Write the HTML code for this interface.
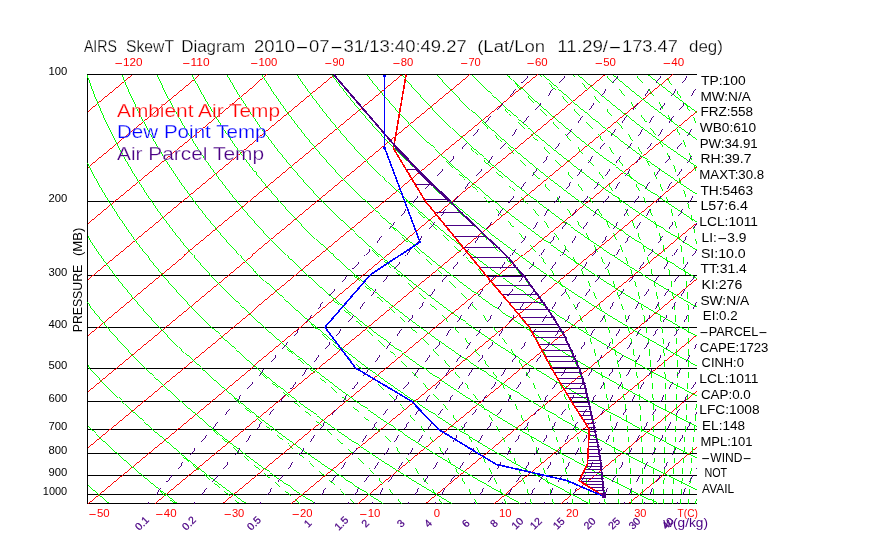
<!DOCTYPE html>
<html lang="en"><head><meta charset="utf-8"><title>AIRS SkewT Diagram</title>
<style>html,body{margin:0;padding:0;background:#fff}body{width:870px;height:560px;overflow:hidden}svg{display:block;will-change:transform}text{white-space:pre}</style></head>
<body>
<svg width="870" height="560" viewBox="0 0 870 560" font-family='"Liberation Sans", sans-serif'>
<rect width="870" height="560" fill="#fff"/>
<g fill="none" stroke-width="0.99" shape-rendering="crispEdges">
<path stroke="#000000" stroke-width="1" d="M87 74.5 H697 M87 201.5 H697 M87 275.5 H697 M87 327.5 H697 M87 368.5 H697 M87 401.5 H697 M87 429.5 H697 M87 453.5 H697 M87 475.5 H697 M87 494.5 H697 M87 503.5 H697 M87.5 74 V504"/>
<path stroke="#ff0000" d="M131.6 74.5 L87.5 111.1 M199.3 74.5 L87.5 167.1 M267 74.5 L87.5 223.2 M334.6 74.5 L87.5 279.2 M402.3 74.5 L87.5 335.3 M470 74.5 L87.5 391.4 M537.6 74.5 L87.5 447.4 M605.3 74.5 L87.5 503.5 M673 74.5 L155.1 503.5 M696.5 111 L222.8 503.5 M696.5 167.1 L290.5 503.5 M696.5 223.2 L358.1 503.5 M696.5 279.2 L425.8 503.5 M696.5 335.3 L493.5 503.5 M696.5 391.4 L561.1 503.5 M696.5 447.4 L628.8 503.5"/>
<path stroke="#00ff00" d="M87.5 485.2 L90.1 487.5 L93.5 490.5 L97 493.5 L100.5 496.5 L104 499.5 L107.5 502.5 L108.7 503.5 M87.5 425.6 L89.4 427.5 L92.5 430.5 L95.6 433.5 L98.7 436.5 L101.9 439.5 L105.1 442.5 L108.3 445.5 L111.6 448.5 L114.9 451.5 L118.2 454.5 L121.6 457.5 L125 460.5 L128.4 463.5 L131.9 466.5 L135.4 469.5 L138.9 472.5 L142.4 475.5 L146 478.5 L149.7 481.5 L153.3 484.5 L157 487.5 L160.8 490.5 L164.5 493.5 L168.3 496.5 L172.2 499.5 L176 502.5 L177.3 503.5 M87.5 364.9 L89.8 367.5 L92.6 370.5 L95.3 373.5 L98.1 376.5 L100.9 379.5 L103.8 382.5 L106.7 385.5 L109.6 388.5 L112.5 391.5 L115.5 394.5 L118.5 397.5 L121.6 400.5 L124.6 403.5 L127.7 406.5 L130.9 409.5 L134 412.5 L137.2 415.5 L140.5 418.5 L143.7 421.5 L147 424.5 L150.3 427.5 L153.7 430.5 L157.1 433.5 L160.5 436.5 L164 439.5 L167.5 442.5 L171 445.5 L174.5 448.5 L178.1 451.5 L181.8 454.5 L185.4 457.5 L189.1 460.5 L192.8 463.5 L196.6 466.5 L200.4 469.5 L204.2 472.5 L208.1 475.5 L212 478.5 L216 481.5 L219.9 484.5 L223.9 487.5 L228 490.5 L232.1 493.5 L236.2 496.5 L240.4 499.5 L244.5 502.5 L246 503.5 M87.5 302.1 L89.4 304.5 L91.7 307.5 L94.1 310.5 L96.6 313.5 L99 316.5 L101.5 319.5 L104 322.5 L106.6 325.5 L109.1 328.5 L111.7 331.5 L114.4 334.5 L117 337.5 L119.7 340.5 L122.4 343.5 L125.2 346.5 L128 349.5 L130.8 352.5 L133.6 355.5 L136.5 358.5 L139.4 361.5 L142.3 364.5 L145.3 367.5 L148.3 370.5 L151.3 373.5 L154.4 376.5 L157.4 379.5 L160.6 382.5 L163.7 385.5 L166.9 388.5 L170.1 391.5 L173.4 394.5 L176.6 397.5 L179.9 400.5 L183.3 403.5 L186.7 406.5 L190.1 409.5 L193.5 412.5 L197 415.5 L200.5 418.5 L204.1 421.5 L207.6 424.5 L211.2 427.5 L214.9 430.5 L218.6 433.5 L222.3 436.5 L226 439.5 L229.8 442.5 L233.6 445.5 L237.5 448.5 L241.4 451.5 L245.3 454.5 L249.3 457.5 L253.3 460.5 L257.3 463.5 L261.4 466.5 L265.5 469.5 L269.6 472.5 L273.8 475.5 L278 478.5 L282.3 481.5 L286.5 484.5 L290.9 487.5 L295.2 490.5 L299.6 493.5 L304.1 496.5 L308.5 499.5 L313.1 502.5 L314.6 503.5 M87.5 235.7 L89.4 238.5 L91.4 241.5 L93.4 244.5 L95.4 247.5 L97.5 250.5 L99.6 253.5 L101.7 256.5 L103.9 259.5 L106.1 262.5 L108.3 265.5 L110.5 268.5 L112.8 271.5 L115.1 274.5 L117.4 277.5 L119.8 280.5 L122.1 283.5 L124.5 286.5 L127 289.5 L129.4 292.5 L131.9 295.5 L134.5 298.5 L137 301.5 L139.6 304.5 L142.2 307.5 L144.8 310.5 L147.5 313.5 L150.2 316.5 L152.9 319.5 L155.7 322.5 L158.5 325.5 L161.3 328.5 L164.1 331.5 L167 334.5 L169.9 337.5 L172.9 340.5 L175.8 343.5 L178.8 346.5 L181.9 349.5 L184.9 352.5 L188 355.5 L191.2 358.5 L194.3 361.5 L197.5 364.5 L200.7 367.5 L204 370.5 L207.3 373.5 L210.6 376.5 L213.9 379.5 L217.3 382.5 L220.7 385.5 L224.2 388.5 L227.7 391.5 L231.2 394.5 L234.8 397.5 L238.3 400.5 L242 403.5 L245.6 406.5 L249.3 409.5 L253 412.5 L256.8 415.5 L260.6 418.5 L264.4 421.5 L268.3 424.5 L272.2 427.5 L276.1 430.5 L280.1 433.5 L284.1 436.5 L288.1 439.5 L292.2 442.5 L296.3 445.5 L300.4 448.5 L304.6 451.5 L308.9 454.5 L313.1 457.5 L317.4 460.5 L321.7 463.5 L326.1 466.5 L330.5 469.5 L335 472.5 L339.5 475.5 L344 478.5 L348.5 481.5 L353.1 484.5 L357.8 487.5 L362.5 490.5 L367.2 493.5 L371.9 496.5 L376.7 499.5 L381.6 502.5 L383.2 503.5 M87.5 162.6 L88 163.5 L89.5 166.5 L91.1 169.5 L92.7 172.5 L94.4 175.5 L96 178.5 L97.7 181.5 L99.4 184.5 L101.2 187.5 L102.9 190.5 L104.7 193.5 L106.5 196.5 L108.4 199.5 L110.2 202.5 L112.1 205.5 L114 208.5 L116 211.5 L117.9 214.5 L119.9 217.5 L122 220.5 L124 223.5 L126.1 226.5 L128.2 229.5 L130.3 232.5 L132.5 235.5 L134.7 238.5 L136.9 241.5 L139.1 244.5 L141.4 247.5 L143.7 250.5 L146 253.5 L148.3 256.5 L150.7 259.5 L153.1 262.5 L155.5 265.5 L158 268.5 L160.5 271.5 L163 274.5 L165.6 277.5 L168.1 280.5 L170.7 283.5 L173.4 286.5 L176 289.5 L178.7 292.5 L181.5 295.5 L184.2 298.5 L187 301.5 L189.8 304.5 L192.7 307.5 L195.5 310.5 L198.5 313.5 L201.4 316.5 L204.4 319.5 L207.4 322.5 L210.4 325.5 L213.4 328.5 L216.5 331.5 L219.7 334.5 L222.8 337.5 L226 340.5 L229.2 343.5 L232.5 346.5 L235.8 349.5 L239.1 352.5 L242.4 355.5 L245.8 358.5 L249.2 361.5 L252.7 364.5 L256.2 367.5 L259.7 370.5 L263.2 373.5 L266.8 376.5 L270.4 379.5 L274.1 382.5 L277.8 385.5 L281.5 388.5 L285.3 391.5 L289 394.5 L292.9 397.5 L296.7 400.5 L300.6 403.5 L304.6 406.5 L308.5 409.5 L312.5 412.5 L316.6 415.5 L320.6 418.5 L324.7 421.5 L328.9 424.5 L333.1 427.5 L337.3 430.5 L341.6 433.5 L345.8 436.5 L350.2 439.5 L354.5 442.5 L359 445.5 L363.4 448.5 L367.9 451.5 L372.4 454.5 L377 457.5 L381.6 460.5 L386.2 463.5 L390.9 466.5 L395.6 469.5 L400.3 472.5 L405.1 475.5 L410 478.5 L414.8 481.5 L419.7 484.5 L424.7 487.5 L429.7 490.5 L434.7 493.5 L439.8 496.5 L444.9 499.5 L450.1 502.5 L451.8 503.5 M87.5 75.3 L87.9 76.5 L89 79.5 L90.1 82.5 L91.2 85.5 L92.3 88.5 L93.5 91.5 L94.6 94.5 L95.8 97.5 L97.1 100.5 L98.3 103.5 L99.6 106.5 L100.9 109.5 L102.2 112.5 L103.5 115.5 L104.9 118.5 L106.3 121.5 L107.7 124.5 L109.1 127.5 L110.6 130.5 L112.1 133.5 L113.6 136.5 L115.1 139.5 L116.7 142.5 L118.2 145.5 L119.9 148.5 L121.5 151.5 L123.1 154.5 L124.8 157.5 L126.5 160.5 L128.2 163.5 L130 166.5 L131.8 169.5 L133.6 172.5 L135.4 175.5 L137.3 178.5 L139.1 181.5 L141.1 184.5 L143 187.5 L144.9 190.5 L146.9 193.5 L148.9 196.5 L151 199.5 L153 202.5 L155.1 205.5 L157.3 208.5 L159.4 211.5 L161.6 214.5 L163.8 217.5 L166 220.5 L168.3 223.5 L170.5 226.5 L172.8 229.5 L175.2 232.5 L177.6 235.5 L180 238.5 L182.4 241.5 L184.8 244.5 L187.3 247.5 L189.8 250.5 L192.4 253.5 L194.9 256.5 L197.5 259.5 L200.1 262.5 L202.8 265.5 L205.5 268.5 L208.2 271.5 L210.9 274.5 L213.7 277.5 L216.5 280.5 L219.4 283.5 L222.2 286.5 L225.1 289.5 L228 292.5 L231 295.5 L234 298.5 L237 301.5 L240.1 304.5 L243.1 307.5 L246.3 310.5 L249.4 313.5 L252.6 316.5 L255.8 319.5 L259 322.5 L262.3 325.5 L265.6 328.5 L268.9 331.5 L272.3 334.5 L275.7 337.5 L279.2 340.5 L282.6 343.5 L286.1 346.5 L289.7 349.5 L293.2 352.5 L296.9 355.5 L300.5 358.5 L304.2 361.5 L307.9 364.5 L311.6 367.5 L315.4 370.5 L319.2 373.5 L323.1 376.5 L326.9 379.5 L330.9 382.5 L334.8 385.5 L338.8 388.5 L342.8 391.5 L346.9 394.5 L351 397.5 L355.1 400.5 L359.3 403.5 L363.5 406.5 L367.7 409.5 L372 412.5 L376.3 415.5 L380.7 418.5 L385.1 421.5 L389.5 424.5 L394 427.5 L398.5 430.5 L403 433.5 L407.6 436.5 L412.2 439.5 L416.9 442.5 L421.6 445.5 L426.3 448.5 L431.1 451.5 L435.9 454.5 L440.8 457.5 L445.7 460.5 L450.6 463.5 L455.6 466.5 L460.6 469.5 L465.7 472.5 L470.8 475.5 L475.9 478.5 L481.1 481.5 L486.4 484.5 L491.6 487.5 L496.9 490.5 L502.3 493.5 L507.7 496.5 L513.1 499.5 L518.6 502.5 L520.4 503.5 M122.2 74.5 L123 76.5 L124.3 79.5 L125.5 82.5 L126.8 85.5 L128.1 88.5 L129.4 91.5 L130.8 94.5 L132.2 97.5 L133.6 100.5 L135 103.5 L136.4 106.5 L137.9 109.5 L139.4 112.5 L140.9 115.5 L142.4 118.5 L144 121.5 L145.6 124.5 L147.2 127.5 L148.8 130.5 L150.5 133.5 L152.2 136.5 L153.9 139.5 L155.6 142.5 L157.4 145.5 L159.2 148.5 L161 151.5 L162.8 154.5 L164.7 157.5 L166.6 160.5 L168.5 163.5 L170.5 166.5 L172.4 169.5 L174.4 172.5 L176.4 175.5 L178.5 178.5 L180.6 181.5 L182.7 184.5 L184.8 187.5 L187 190.5 L189.1 193.5 L191.4 196.5 L193.6 199.5 L195.9 202.5 L198.1 205.5 L200.5 208.5 L202.8 211.5 L205.2 214.5 L207.6 217.5 L210 220.5 L212.5 223.5 L215 226.5 L217.5 229.5 L220.1 232.5 L222.6 235.5 L225.2 238.5 L227.9 241.5 L230.6 244.5 L233.2 247.5 L236 250.5 L238.7 253.5 L241.5 256.5 L244.3 259.5 L247.2 262.5 L250.1 265.5 L253 268.5 L255.9 271.5 L258.9 274.5 L261.9 277.5 L264.9 280.5 L268 283.5 L271.1 286.5 L274.2 289.5 L277.3 292.5 L280.5 295.5 L283.8 298.5 L287 301.5 L290.3 304.5 L293.6 307.5 L297 310.5 L300.3 313.5 L303.8 316.5 L307.2 319.5 L310.7 322.5 L314.2 325.5 L317.8 328.5 L321.4 331.5 L325 334.5 L328.6 337.5 L332.3 340.5 L336 343.5 L339.8 346.5 L343.6 349.5 L347.4 352.5 L351.3 355.5 L355.2 358.5 L359.1 361.5 L363.1 364.5 L367.1 367.5 L371.1 370.5 L375.2 373.5 L379.3 376.5 L383.4 379.5 L387.6 382.5 L391.8 385.5 L396.1 388.5 L400.4 391.5 L404.7 394.5 L409.1 397.5 L413.5 400.5 L418 403.5 L422.4 406.5 L427 409.5 L431.5 412.5 L436.1 415.5 L440.8 418.5 L445.4 421.5 L450.1 424.5 L454.9 427.5 L459.7 430.5 L464.5 433.5 L469.4 436.5 L474.3 439.5 L479.3 442.5 L484.3 445.5 L489.3 448.5 L494.4 451.5 L499.5 454.5 L504.7 457.5 L509.9 460.5 L515.1 463.5 L520.4 466.5 L525.7 469.5 L531.1 472.5 L536.5 475.5 L541.9 478.5 L547.4 481.5 L553 484.5 L558.5 487.5 L564.2 490.5 L569.8 493.5 L575.5 496.5 L581.3 499.5 L587.1 502.5 L589.1 503.5 M157.3 74.5 L158.2 76.5 L159.6 79.5 L161 82.5 L162.5 85.5 L163.9 88.5 L165.4 91.5 L166.9 94.5 L168.5 97.5 L170 100.5 L171.6 103.5 L173.3 106.5 L174.9 109.5 L176.6 112.5 L178.3 115.5 L180 118.5 L181.7 121.5 L183.5 124.5 L185.3 127.5 L187.1 130.5 L188.9 133.5 L190.8 136.5 L192.7 139.5 L194.6 142.5 L196.6 145.5 L198.5 148.5 L200.5 151.5 L202.6 154.5 L204.6 157.5 L206.7 160.5 L208.8 163.5 L210.9 166.5 L213.1 169.5 L215.3 172.5 L217.5 175.5 L219.7 178.5 L222 181.5 L224.3 184.5 L226.6 187.5 L229 190.5 L231.4 193.5 L233.8 196.5 L236.2 199.5 L238.7 202.5 L241.2 205.5 L243.7 208.5 L246.2 211.5 L248.8 214.5 L251.4 217.5 L254.1 220.5 L256.7 223.5 L259.4 226.5 L262.2 229.5 L264.9 232.5 L267.7 235.5 L270.5 238.5 L273.4 241.5 L276.3 244.5 L279.2 247.5 L282.1 250.5 L285.1 253.5 L288.1 256.5 L291.1 259.5 L294.2 262.5 L297.3 265.5 L300.4 268.5 L303.6 271.5 L306.8 274.5 L310 277.5 L313.3 280.5 L316.6 283.5 L319.9 286.5 L323.2 289.5 L326.6 292.5 L330.1 295.5 L333.5 298.5 L337 301.5 L340.5 304.5 L344.1 307.5 L347.7 310.5 L351.3 313.5 L355 316.5 L358.6 319.5 L362.4 322.5 L366.1 325.5 L369.9 328.5 L373.8 331.5 L377.6 334.5 L381.5 337.5 L385.5 340.5 L389.4 343.5 L393.4 346.5 L397.5 349.5 L401.6 352.5 L405.7 355.5 L409.8 358.5 L414 361.5 L418.2 364.5 L422.5 367.5 L426.8 370.5 L431.1 373.5 L435.5 376.5 L439.9 379.5 L444.4 382.5 L448.9 385.5 L453.4 388.5 L458 391.5 L462.6 394.5 L467.2 397.5 L471.9 400.5 L476.6 403.5 L481.4 406.5 L486.2 409.5 L491 412.5 L495.9 415.5 L500.8 418.5 L505.8 421.5 L510.8 424.5 L515.8 427.5 L520.9 430.5 L526 433.5 L531.2 436.5 L536.4 439.5 L541.6 442.5 L546.9 445.5 L552.3 448.5 L557.6 451.5 L563 454.5 L568.5 457.5 L574 460.5 L579.5 463.5 L585.1 466.5 L590.8 469.5 L596.4 472.5 L602.1 475.5 L607.9 478.5 L613.7 481.5 L619.6 484.5 L625.5 487.5 L631.4 490.5 L637.4 493.5 L643.4 496.5 L649.5 499.5 L655.6 502.5 L657.7 503.5 M192.3 74.5 L193.3 76.5 L194.9 79.5 L196.5 82.5 L198.1 85.5 L199.7 88.5 L201.4 91.5 L203.1 94.5 L204.8 97.5 L206.5 100.5 L208.3 103.5 L210.1 106.5 L211.9 109.5 L213.7 112.5 L215.6 115.5 L217.5 118.5 L219.4 121.5 L221.4 124.5 L223.3 127.5 L225.3 130.5 L227.4 133.5 L229.4 136.5 L231.5 139.5 L233.6 142.5 L235.7 145.5 L237.9 148.5 L240.1 151.5 L242.3 154.5 L244.5 157.5 L246.8 160.5 L249.1 163.5 L251.4 166.5 L253.7 169.5 L256.1 172.5 L258.5 175.5 L261 178.5 L263.4 181.5 L265.9 184.5 L268.4 187.5 L271 190.5 L273.6 193.5 L276.2 196.5 L278.8 199.5 L281.5 202.5 L284.2 205.5 L286.9 208.5 L289.7 211.5 L292.4 214.5 L295.3 217.5 L298.1 220.5 L301 223.5 L303.9 226.5 L306.8 229.5 L309.8 232.5 L312.8 235.5 L315.8 238.5 L318.9 241.5 L322 244.5 L325.1 247.5 L328.3 250.5 L331.5 253.5 L334.7 256.5 L338 259.5 L341.2 262.5 L344.6 265.5 L347.9 268.5 L351.3 271.5 L354.7 274.5 L358.2 277.5 L361.7 280.5 L365.2 283.5 L368.7 286.5 L372.3 289.5 L375.9 292.5 L379.6 295.5 L383.3 298.5 L387 301.5 L390.8 304.5 L394.6 307.5 L398.4 310.5 L402.2 313.5 L406.1 316.5 L410.1 319.5 L414 322.5 L418 325.5 L422.1 328.5 L426.2 331.5 L430.3 334.5 L434.4 337.5 L438.6 340.5 L442.8 343.5 L447.1 346.5 L451.4 349.5 L455.7 352.5 L460.1 355.5 L464.5 358.5 L468.9 361.5 L473.4 364.5 L478 367.5 L482.5 370.5 L487.1 373.5 L491.8 376.5 L496.4 379.5 L501.2 382.5 L505.9 385.5 L510.7 388.5 L515.5 391.5 L520.4 394.5 L525.3 397.5 L530.3 400.5 L535.3 403.5 L540.3 406.5 L545.4 409.5 L550.5 412.5 L555.7 415.5 L560.9 418.5 L566.1 421.5 L571.4 424.5 L576.7 427.5 L582.1 430.5 L587.5 433.5 L593 436.5 L598.5 439.5 L604 442.5 L609.6 445.5 L615.2 448.5 L620.9 451.5 L626.6 454.5 L632.3 457.5 L638.1 460.5 L644 463.5 L649.9 466.5 L655.8 469.5 L661.8 472.5 L667.8 475.5 L673.9 478.5 L680 481.5 L686.2 484.5 L692.4 487.5 L696.5 489.5 M227.3 74.5 L228.5 76.5 L230.2 79.5 L232 82.5 L233.7 85.5 L235.5 88.5 L237.4 91.5 L239.2 94.5 L241.1 97.5 L243 100.5 L245 103.5 L246.9 106.5 L248.9 109.5 L250.9 112.5 L253 115.5 L255 118.5 L257.1 121.5 L259.2 124.5 L261.4 127.5 L263.6 130.5 L265.8 133.5 L268 136.5 L270.3 139.5 L272.6 142.5 L274.9 145.5 L277.2 148.5 L279.6 151.5 L282 154.5 L284.4 157.5 L286.9 160.5 L289.3 163.5 L291.9 166.5 L294.4 169.5 L297 172.5 L299.6 175.5 L302.2 178.5 L304.8 181.5 L307.5 184.5 L310.3 187.5 L313 190.5 L315.8 193.5 L318.6 196.5 L321.4 199.5 L324.3 202.5 L327.2 205.5 L330.1 208.5 L333.1 211.5 L336.1 214.5 L339.1 217.5 L342.1 220.5 L345.2 223.5 L348.4 226.5 L351.5 229.5 L354.7 232.5 L357.9 235.5 L361.1 238.5 L364.4 241.5 L367.7 244.5 L371.1 247.5 L374.4 250.5 L377.9 253.5 L381.3 256.5 L384.8 259.5 L388.3 262.5 L391.8 265.5 L395.4 268.5 L399 271.5 L402.6 274.5 L406.3 277.5 L410 280.5 L413.8 283.5 L417.6 286.5 L421.4 289.5 L425.2 292.5 L429.1 295.5 L433 298.5 L437 301.5 L441 304.5 L445 307.5 L449.1 310.5 L453.2 313.5 L457.3 316.5 L461.5 319.5 L465.7 322.5 L470 325.5 L474.2 328.5 L478.6 331.5 L482.9 334.5 L487.3 337.5 L491.8 340.5 L496.2 343.5 L500.7 346.5 L505.3 349.5 L509.9 352.5 L514.5 355.5 L519.2 358.5 L523.9 361.5 L528.6 364.5 L533.4 367.5 L538.2 370.5 L543.1 373.5 L548 376.5 L552.9 379.5 L557.9 382.5 L562.9 385.5 L568 388.5 L573.1 391.5 L578.3 394.5 L583.4 397.5 L588.7 400.5 L593.9 403.5 L599.3 406.5 L604.6 409.5 L610 412.5 L615.5 415.5 L620.9 418.5 L626.5 421.5 L632 424.5 L637.6 427.5 L643.3 430.5 L649 433.5 L654.7 436.5 L660.5 439.5 L666.4 442.5 L672.2 445.5 L678.2 448.5 L684.1 451.5 L690.1 454.5 L696.2 457.5 L696.5 457.7 M262.4 74.5 L263.6 76.5 L265.5 79.5 L267.4 82.5 L269.4 85.5 L271.3 88.5 L273.3 91.5 L275.4 94.5 L277.4 97.5 L279.5 100.5 L281.6 103.5 L283.8 106.5 L285.9 109.5 L288.1 112.5 L290.3 115.5 L292.6 118.5 L294.8 121.5 L297.1 124.5 L299.5 127.5 L301.8 130.5 L304.2 133.5 L306.6 136.5 L309.1 139.5 L311.5 142.5 L314 145.5 L316.5 148.5 L319.1 151.5 L321.7 154.5 L324.3 157.5 L326.9 160.5 L329.6 163.5 L332.3 166.5 L335 169.5 L337.8 172.5 L340.6 175.5 L343.4 178.5 L346.3 181.5 L349.2 184.5 L352.1 187.5 L355 190.5 L358 193.5 L361 196.5 L364 199.5 L367.1 202.5 L370.2 205.5 L373.3 208.5 L376.5 211.5 L379.7 214.5 L382.9 217.5 L386.2 220.5 L389.5 223.5 L392.8 226.5 L396.2 229.5 L399.6 232.5 L403 235.5 L406.4 238.5 L409.9 241.5 L413.5 244.5 L417 247.5 L420.6 250.5 L424.2 253.5 L427.9 256.5 L431.6 259.5 L435.3 262.5 L439.1 265.5 L442.9 268.5 L446.7 271.5 L450.6 274.5 L454.5 277.5 L458.4 280.5 L462.4 283.5 L466.4 286.5 L470.4 289.5 L474.5 292.5 L478.6 295.5 L482.8 298.5 L487 301.5 L491.2 304.5 L495.5 307.5 L499.8 310.5 L504.1 313.5 L508.5 316.5 L512.9 319.5 L517.4 322.5 L521.9 325.5 L526.4 328.5 L531 331.5 L535.6 334.5 L540.2 337.5 L544.9 340.5 L549.6 343.5 L554.4 346.5 L559.2 349.5 L564 352.5 L568.9 355.5 L573.8 358.5 L578.8 361.5 L583.8 364.5 L588.8 367.5 L593.9 370.5 L599.1 373.5 L604.2 376.5 L609.4 379.5 L614.7 382.5 L620 385.5 L625.3 388.5 L630.7 391.5 L636.1 394.5 L641.6 397.5 L647.1 400.5 L652.6 403.5 L658.2 406.5 L663.8 409.5 L669.5 412.5 L675.2 415.5 L681 418.5 L686.8 421.5 L692.7 424.5 L696.5 426.5 M297.4 74.5 L298.7 76.5 L300.8 79.5 L302.9 82.5 L305 85.5 L307.2 88.5 L309.3 91.5 L311.5 94.5 L313.7 97.5 L316 100.5 L318.3 103.5 L320.6 106.5 L322.9 109.5 L325.3 112.5 L327.7 115.5 L330.1 118.5 L332.5 121.5 L335 124.5 L337.5 127.5 L340.1 130.5 L342.6 133.5 L345.2 136.5 L347.8 139.5 L350.5 142.5 L353.2 145.5 L355.9 148.5 L358.6 151.5 L361.4 154.5 L364.2 157.5 L367 160.5 L369.9 163.5 L372.8 166.5 L375.7 169.5 L378.7 172.5 L381.6 175.5 L384.7 178.5 L387.7 181.5 L390.8 184.5 L393.9 187.5 L397 190.5 L400.2 193.5 L403.4 196.5 L406.6 199.5 L409.9 202.5 L413.2 205.5 L416.6 208.5 L419.9 211.5 L423.3 214.5 L426.8 217.5 L430.2 220.5 L433.7 223.5 L437.3 226.5 L440.8 229.5 L444.4 232.5 L448.1 235.5 L451.7 238.5 L455.4 241.5 L459.2 244.5 L463 247.5 L466.8 250.5 L470.6 253.5 L474.5 256.5 L478.4 259.5 L482.3 262.5 L486.3 265.5 L490.3 268.5 L494.4 271.5 L498.5 274.5 L502.6 277.5 L506.8 280.5 L511 283.5 L515.2 286.5 L519.5 289.5 L523.8 292.5 L528.2 295.5 L532.6 298.5 L537 301.5 L541.5 304.5 L546 307.5 L550.5 310.5 L555.1 313.5 L559.7 316.5 L564.4 319.5 L569.1 322.5 L573.8 325.5 L578.6 328.5 L583.4 331.5 L588.2 334.5 L593.1 337.5 L598.1 340.5 L603 343.5 L608 346.5 L613.1 349.5 L618.2 352.5 L623.3 355.5 L628.5 358.5 L633.7 361.5 L639 364.5 L644.3 367.5 L649.6 370.5 L655 373.5 L660.5 376.5 L665.9 379.5 L671.4 382.5 L677 385.5 L682.6 388.5 L688.3 391.5 L693.9 394.5 L696.5 395.8 M332.4 74.5 L333.9 76.5 L336.1 79.5 L338.4 82.5 L340.7 85.5 L343 88.5 L345.3 91.5 L347.7 94.5 L350.1 97.5 L352.5 100.5 L354.9 103.5 L357.4 106.5 L359.9 109.5 L362.5 112.5 L365 115.5 L367.6 118.5 L370.3 121.5 L372.9 124.5 L375.6 127.5 L378.3 130.5 L381 133.5 L383.8 136.5 L386.6 139.5 L389.5 142.5 L392.3 145.5 L395.2 148.5 L398.1 151.5 L401.1 154.5 L404.1 157.5 L407.1 160.5 L410.2 163.5 L413.2 166.5 L416.4 169.5 L419.5 172.5 L422.7 175.5 L425.9 178.5 L429.1 181.5 L432.4 184.5 L435.7 187.5 L439 190.5 L442.4 193.5 L445.8 196.5 L449.3 199.5 L452.7 202.5 L456.2 205.5 L459.8 208.5 L463.3 211.5 L466.9 214.5 L470.6 217.5 L474.3 220.5 L478 223.5 L481.7 226.5 L485.5 229.5 L489.3 232.5 L493.1 235.5 L497 238.5 L500.9 241.5 L504.9 244.5 L508.9 247.5 L512.9 250.5 L517 253.5 L521.1 256.5 L525.2 259.5 L529.4 262.5 L533.6 265.5 L537.8 268.5 L542.1 271.5 L546.4 274.5 L550.8 277.5 L555.2 280.5 L559.6 283.5 L564.1 286.5 L568.6 289.5 L573.1 292.5 L577.7 295.5 L582.3 298.5 L587 301.5 L591.7 304.5 L596.4 307.5 L601.2 310.5 L606 313.5 L610.9 316.5 L615.8 319.5 L620.7 322.5 L625.7 325.5 L630.7 328.5 L635.8 331.5 L640.9 334.5 L646 337.5 L651.2 340.5 L656.4 343.5 L661.7 346.5 L667 349.5 L672.4 352.5 L677.7 355.5 L683.2 358.5 L688.7 361.5 L694.2 364.5 L696.5 365.8 M367.4 74.5 L369 76.5 L371.4 79.5 L373.8 82.5 L376.3 85.5 L378.8 88.5 L381.3 91.5 L383.8 94.5 L386.4 97.5 L389 100.5 L391.6 103.5 L394.2 106.5 L396.9 109.5 L399.6 112.5 L402.4 115.5 L405.2 118.5 L408 121.5 L410.8 124.5 L413.7 127.5 L416.5 130.5 L419.5 133.5 L422.4 136.5 L425.4 139.5 L428.4 142.5 L431.5 145.5 L434.6 148.5 L437.7 151.5 L440.8 154.5 L444 157.5 L447.2 160.5 L450.4 163.5 L453.7 166.5 L457 169.5 L460.3 172.5 L463.7 175.5 L467.1 178.5 L470.6 181.5 L474 184.5 L477.5 187.5 L481.1 190.5 L484.6 193.5 L488.2 196.5 L491.9 199.5 L495.5 202.5 L499.2 205.5 L503 208.5 L506.8 211.5 L510.6 214.5 L514.4 217.5 L518.3 220.5 L522.2 223.5 L526.2 226.5 L530.2 229.5 L534.2 232.5 L538.2 235.5 L542.3 238.5 L546.5 241.5 L550.6 244.5 L554.8 247.5 L559.1 250.5 L563.4 253.5 L567.7 256.5 L572 259.5 L576.4 262.5 L580.8 265.5 L585.3 268.5 L589.8 271.5 L594.4 274.5 L598.9 277.5 L603.6 280.5 L608.2 283.5 L612.9 286.5 L617.6 289.5 L622.4 292.5 L627.2 295.5 L632.1 298.5 L637 301.5 L641.9 304.5 L646.9 307.5 L651.9 310.5 L657 313.5 L662.1 316.5 L667.2 319.5 L672.4 322.5 L677.6 325.5 L682.9 328.5 L688.2 331.5 L693.5 334.5 L696.5 336.2 M402.5 74.5 L404.2 76.5 L406.7 79.5 L409.3 82.5 L411.9 85.5 L414.6 88.5 L417.3 91.5 L420 94.5 L422.7 97.5 L425.5 100.5 L428.3 103.5 L431.1 106.5 L433.9 109.5 L436.8 112.5 L439.7 115.5 L442.7 118.5 L445.7 121.5 L448.7 124.5 L451.7 127.5 L454.8 130.5 L457.9 133.5 L461 136.5 L464.2 139.5 L467.4 142.5 L470.6 145.5 L473.9 148.5 L477.2 151.5 L480.5 154.5 L483.9 157.5 L487.3 160.5 L490.7 163.5 L494.2 166.5 L497.7 169.5 L501.2 172.5 L504.8 175.5 L508.4 178.5 L512 181.5 L515.6 184.5 L519.3 187.5 L523.1 190.5 L526.8 193.5 L530.6 196.5 L534.5 199.5 L538.4 202.5 L542.3 205.5 L546.2 208.5 L550.2 211.5 L554.2 214.5 L558.2 217.5 L562.3 220.5 L566.5 223.5 L570.6 226.5 L574.8 229.5 L579 232.5 L583.3 235.5 L587.6 238.5 L592 241.5 L596.4 244.5 L600.8 247.5 L605.2 250.5 L609.7 253.5 L614.3 256.5 L618.8 259.5 L623.4 262.5 L628.1 265.5 L632.8 268.5 L637.5 271.5 L642.3 274.5 L647.1 277.5 L651.9 280.5 L656.8 283.5 L661.7 286.5 L666.7 289.5 L671.7 292.5 L676.8 295.5 L681.9 298.5 L687 301.5 L692.2 304.5 L696.5 307 M437.5 74.5 L439.3 76.5 L442 79.5 L444.8 82.5 L447.6 85.5 L450.4 88.5 L453.2 91.5 L456.1 94.5 L459 97.5 L461.9 100.5 L464.9 103.5 L467.9 106.5 L470.9 109.5 L474 112.5 L477.1 115.5 L480.2 118.5 L483.4 121.5 L486.6 124.5 L489.8 127.5 L493 130.5 L496.3 133.5 L499.6 136.5 L503 139.5 L506.4 142.5 L509.8 145.5 L513.2 148.5 L516.7 151.5 L520.2 154.5 L523.8 157.5 L527.4 160.5 L531 163.5 L534.6 166.5 L538.3 169.5 L542 172.5 L545.8 175.5 L549.6 178.5 L553.4 181.5 L557.3 184.5 L561.2 187.5 L565.1 190.5 L569.1 193.5 L573.1 196.5 L577.1 199.5 L581.2 202.5 L585.3 205.5 L589.4 208.5 L593.6 211.5 L597.8 214.5 L602.1 217.5 L606.4 220.5 L610.7 223.5 L615.1 226.5 L619.5 229.5 L623.9 232.5 L628.4 235.5 L632.9 238.5 L637.5 241.5 L642.1 244.5 L646.7 247.5 L651.4 250.5 L656.1 253.5 L660.9 256.5 L665.6 259.5 L670.5 262.5 L675.3 265.5 L680.3 268.5 L685.2 271.5 L690.2 274.5 L695.2 277.5 L696.5 278.3 M472.5 74.5 L474.4 76.5 L477.3 79.5 L480.3 82.5 L483.2 85.5 L486.2 88.5 L489.2 91.5 L492.3 94.5 L495.3 97.5 L498.4 100.5 L501.6 103.5 L504.7 106.5 L507.9 109.5 L511.2 112.5 L514.5 115.5 L517.8 118.5 L521.1 121.5 L524.5 124.5 L527.8 127.5 L531.3 130.5 L534.7 133.5 L538.2 136.5 L541.8 139.5 L545.3 142.5 L548.9 145.5 L552.6 148.5 L556.2 151.5 L559.9 154.5 L563.7 157.5 L567.5 160.5 L571.3 163.5 L575.1 166.5 L579 169.5 L582.9 172.5 L586.8 175.5 L590.8 178.5 L594.8 181.5 L598.9 184.5 L603 187.5 L607.1 190.5 L611.3 193.5 L615.5 196.5 L619.7 199.5 L624 202.5 L628.3 205.5 L632.6 208.5 L637 211.5 L641.4 214.5 L645.9 217.5 L650.4 220.5 L654.9 223.5 L659.5 226.5 L664.1 229.5 L668.8 232.5 L673.5 235.5 L678.2 238.5 L683 241.5 L687.8 244.5 L692.7 247.5 L696.5 249.9 M507.6 74.5 L509.6 76.5 L512.6 79.5 L515.7 82.5 L518.9 85.5 L522 88.5 L525.2 91.5 L528.4 94.5 L531.6 97.5 L534.9 100.5 L538.2 103.5 L541.6 106.5 L545 109.5 L548.4 112.5 L551.8 115.5 L555.3 118.5 L558.8 121.5 L562.3 124.5 L565.9 127.5 L569.5 130.5 L573.2 133.5 L576.8 136.5 L580.6 139.5 L584.3 142.5 L588.1 145.5 L591.9 148.5 L595.8 151.5 L599.7 154.5 L603.6 157.5 L607.5 160.5 L611.5 163.5 L615.6 166.5 L619.6 169.5 L623.7 172.5 L627.9 175.5 L632 178.5 L636.3 181.5 L640.5 184.5 L644.8 187.5 L649.1 190.5 L653.5 193.5 L657.9 196.5 L662.3 199.5 L666.8 202.5 L671.3 205.5 L675.9 208.5 L680.4 211.5 L685.1 214.5 L689.7 217.5 L694.4 220.5 L696.5 221.8 M542.6 74.5 L544.7 76.5 L548 79.5 L551.2 82.5 L554.5 85.5 L557.8 88.5 L561.2 91.5 L564.5 94.5 L568 97.5 L571.4 100.5 L574.9 103.5 L578.4 106.5 L582 109.5 L585.5 112.5 L589.2 115.5 L592.8 118.5 L596.5 121.5 L600.2 124.5 L604 127.5 L607.8 130.5 L611.6 133.5 L615.5 136.5 L619.4 139.5 L623.3 142.5 L627.2 145.5 L631.3 148.5 L635.3 151.5 L639.4 154.5 L643.5 157.5 L647.6 160.5 L651.8 163.5 L656 166.5 L660.3 169.5 L664.6 172.5 L668.9 175.5 L673.3 178.5 L677.7 181.5 L682.1 184.5 L686.6 187.5 L691.1 190.5 L695.7 193.5 L696.5 194 M577.6 74.5 L579.9 76.5 L583.3 79.5 L586.7 82.5 L590.1 85.5 L593.6 88.5 L597.1 91.5 L600.7 94.5 L604.3 97.5 L607.9 100.5 L611.6 103.5 L615.2 106.5 L619 109.5 L622.7 112.5 L626.5 115.5 L630.3 118.5 L634.2 121.5 L638.1 124.5 L642 127.5 L646 130.5 L650 133.5 L654.1 136.5 L658.1 139.5 L662.3 142.5 L666.4 145.5 L670.6 148.5 L674.8 151.5 L679.1 154.5 L683.4 157.5 L687.7 160.5 L692.1 163.5 L696.5 166.5 L696.5 166.5 M612.7 74.5 L615 76.5 L618.6 79.5 L622.2 82.5 L625.8 85.5 L629.4 88.5 L633.1 91.5 L636.8 94.5 L640.6 97.5 L644.4 100.5 L648.2 103.5 L652.1 106.5 L656 109.5 L659.9 112.5 L663.9 115.5 L667.9 118.5 L671.9 121.5 L676 124.5 L680.1 127.5 L684.3 130.5 L688.4 133.5 L692.7 136.5 L696.5 139.2 M647.7 74.5 L650.2 76.5 L653.9 79.5 L657.6 82.5 L661.4 85.5 L665.2 88.5 L669.1 91.5 L673 94.5 L676.9 97.5 L680.9 100.5 L684.9 103.5 L688.9 106.5 L693 109.5 L696.5 112.1"/>
<path stroke="#00ff00" d="M174.7 503.5 L173.5 502.5 L170 499.7 M165.5 495.9 L162.6 493.5 L159.8 491.2 M239.3 503.5 L238 502.5 L234.6 499.7 M230.1 496 L227 493.5 L224.4 491.3 M219.9 487.6 L219.7 487.5 L216.1 484.5 L214.1 482.9 M209.6 479.2 L208.8 478.5 L205.2 475.5 L203.8 474.4 M199.2 470.6 L198 469.5 L194.4 466.5 L193.4 465.7 M188.8 461.8 L187.3 460.5 L183.8 457.5 L183 456.9 M299.8 503.5 L298.6 502.5 L295.1 499.5 L295.1 499.5 M290.6 495.6 L288.1 493.5 L284.9 490.8 M280.4 487 L277.4 484.5 L274.6 482.2 M270.1 478.4 L266.6 475.5 L264.3 473.6 M259.7 469.7 L259.4 469.5 L255.8 466.5 L253.9 464.9 M249.3 461.1 L248.6 460.5 L245 457.5 L243.5 456.2 M238.8 452.3 L237.8 451.5 L234.3 448.5 L233 447.4 M228.3 443.5 L227.1 442.5 L223.6 439.5 L222.4 438.5 M217.7 434.5 L216.6 433.5 L213.1 430.5 L211.8 429.4 M354.4 503.5 L353.3 502.5 L350.2 499.5 L349.7 499 M345.2 494.7 L343.9 493.5 L340.7 490.5 L339.5 489.4 M335 485.2 L334.2 484.5 L330.9 481.5 L329.2 480 M324.7 476 L324.1 475.5 L320.7 472.5 L318.9 470.9 M314.3 466.9 L313.9 466.5 L310.4 463.5 L308.5 461.8 M303.9 457.9 L303.4 457.5 L299.9 454.5 L298 452.9 M293.4 448.9 L292.9 448.5 L289.3 445.5 L287.5 443.9 M282.8 440 L282.2 439.5 L278.7 436.5 L276.9 435 M272.2 431 L271.6 430.5 L268 427.5 L266.2 426 M261.5 422 L261 421.5 L257.4 418.5 L255.5 416.9 M250.8 412.8 L250.4 412.5 L246.9 409.5 L244.7 407.6 M239.9 403.4 L236.6 400.5 L233.9 398.2 M402 503.5 L401.1 502.5 L398.5 499.5 L397.9 498.8 M393.9 494.3 L393.2 493.5 L390.4 490.5 L388.7 488.6 M384.4 484.1 L381.9 481.5 L379 478.5 L378.8 478.3 M374.3 473.8 L373 472.5 L370 469.5 L368.5 468.1 M363.9 463.7 L363.7 463.5 L360.6 460.5 L358.1 458.2 M353.5 453.9 L350.9 451.5 L347.6 448.5 M342.9 444.3 L340.9 442.5 L337.6 439.5 L337 439 M332.3 434.9 L330.7 433.5 L327.3 430.5 L326.4 429.7 M321.7 425.6 L320.4 424.5 L316.9 421.5 L315.7 420.5 M311 416.4 L310 415.5 L306.5 412.5 L305 411.2 M300.2 407.1 L299.5 406.5 L296 403.5 L294.2 401.9 M289.3 397.8 L289 397.5 L285.5 394.5 L283.3 392.6 M278.4 388.4 L275.1 385.5 L272.3 383.1 M267.4 378.8 L264.8 376.5 L261.4 373.5 L261.3 373.4 M442.7 503.5 L442 502.5 L439.9 499.5 L439.4 498.8 M436.1 494.3 L435.5 493.5 L433.3 490.5 L431.8 488.6 M428.3 484.1 L426.3 481.5 L423.8 478.5 L423.7 478.3 M419.9 473.8 L418.8 472.5 L416.3 469.5 L414.9 468 M410.9 463.4 L408.3 460.5 L405.6 457.6 M401.2 452.9 L399.9 451.5 L397 448.5 L395.6 447.1 M391 442.4 L388.1 439.5 L385.1 436.6 M380.4 432 L378.8 430.5 L375.6 427.5 L374.4 426.4 M369.7 422 L369.2 421.5 L365.9 418.5 L363.7 416.5 M359 412.2 L356 409.5 L352.9 406.8 M348.1 402.5 L345.9 400.5 L342.5 397.5 L342.1 397.2 M337.3 392.9 L335.6 391.5 L332.2 388.5 L331.2 387.6 M326.3 383.4 L325.3 382.5 L321.9 379.5 L320.2 378 M315.3 373.8 L315 373.5 L311.5 370.5 L309.2 368.4 M304.2 364.1 L301.3 361.5 L298 358.7 M293.1 354.3 L291.1 352.5 L287.7 349.5 L286.8 348.7 M477.2 503.5 L476.6 502.5 L475 499.5 L474.6 498.8 M472 494.3 L471.5 493.5 L469.7 490.5 L468.6 488.6 M465.8 484.1 L464.1 481.5 L462.2 478.5 L462.1 478.3 M459 473.8 L458.2 472.5 L456.1 469.5 L455 468 M451.7 463.4 L449.6 460.5 L447.4 457.6 M443.8 452.9 L442.6 451.5 L440.2 448.5 L439 447.1 M435.2 442.4 L432.7 439.5 L430.1 436.5 M425.9 431.8 L424.8 430.5 L422 427.5 L420.5 425.9 M416.1 421.1 L413.5 418.5 L410.6 415.5 L410.3 415.2 M405.5 410.4 L404.7 409.5 L401.6 406.5 L399.5 404.5 M394.7 399.8 L392.3 397.5 L389.1 394.5 L388.7 394.1 M383.8 389.5 L382.7 388.5 L379.4 385.5 L377.7 383.9 M372.8 379.5 L369.5 376.5 L366.7 374 M361.8 369.6 L359.5 367.5 L356.1 364.5 L355.6 364.1 M350.7 359.7 L349.3 358.5 L345.9 355.5 L344.5 354.3 M339.5 349.9 L339.1 349.5 L335.7 346.5 L333.3 344.4 M328.3 339.9 L325.6 337.5 L322.2 334.5 L322 334.3 M316.9 329.8 L315.5 328.5 L312.1 325.5 L310.6 324.1 M506.6 503.5 L506.2 502.5 L504.9 499.5 L504.6 498.8 M502.6 494.3 L502.2 493.5 L500.8 490.5 L499.9 488.6 M497.7 484.1 L496.4 481.5 L494.9 478.5 L494.8 478.3 M492.4 473.8 L491.7 472.5 L490 469.5 L489.2 468 M486.6 463.4 L484.9 460.5 L483.1 457.6 M480.2 452.9 L479.3 451.5 L477.4 448.5 L476.5 447.1 M473.3 442.4 L471.3 439.5 L469.2 436.5 M465.8 431.8 L464.8 430.5 L462.5 427.5 L461.3 425.9 M457.6 421.1 L455.5 418.5 L453 415.5 L452.7 415.2 M448.7 410.4 L447.9 409.5 L445.3 406.5 L443.5 404.4 M439.1 399.6 L437.3 397.5 L434.5 394.5 L433.5 393.5 M428.9 388.7 L428.8 388.5 L425.9 385.5 L423 382.6 M418.1 377.7 L416.9 376.5 L413.8 373.5 L411.9 371.7 M407 367 L404.4 364.5 L401.2 361.5 L400.8 361.2 M395.9 356.6 L394.7 355.5 L391.5 352.5 L389.7 350.9 M384.7 346.3 L381.6 343.5 L378.4 340.7 M373.4 336.1 L371.6 334.5 L368.2 331.5 L367.1 330.5 M362.1 326 L361.5 325.5 L358.2 322.5 L355.7 320.3 M350.6 315.8 L348.1 313.5 L344.8 310.5 L344.3 310 M339.1 305.4 L338.2 304.5 L334.9 301.5 L332.8 299.6 M531.8 503.5 L531.5 502.5 L530.5 499.5 L530.3 498.8 M528.7 494.3 L528.4 493.5 L527.4 490.5 L526.7 488.6 M525 484.1 L524 481.5 L522.8 478.5 L522.7 478.3 M520.9 473.8 L520.3 472.5 L519.1 469.5 L518.4 468 M516.4 463.4 L515 460.5 L513.7 457.6 M511.4 452.9 L510.7 451.5 L509.2 448.5 L508.4 447.1 M506 442.4 L504.4 439.5 L502.7 436.5 M500 431.8 L499.2 430.5 L497.4 427.5 L496.4 425.9 M493.4 421.1 L491.7 418.5 L489.7 415.5 L489.5 415.2 M486.2 410.4 L485.6 409.5 L483.5 406.5 L481.9 404.4 M478.3 399.6 L476.8 397.5 L474.4 394.5 L473.6 393.5 M469.7 388.7 L469.6 388.5 L467.1 385.5 L464.7 382.6 M460.5 377.7 L459.4 376.5 L456.8 373.5 L455 371.5 M450.5 366.6 L448.5 364.5 L445.6 361.5 L444.6 360.4 M439.8 355.5 L436.8 352.5 L433.8 349.5 L433.6 349.3 M428.6 344.4 L427.7 343.5 L424.6 340.5 L422.4 338.4 M417.3 333.6 L415.1 331.5 L411.9 328.5 L411 327.7 M405.9 323 L405.4 322.5 L402.2 319.5 L399.6 317.2 M394.5 312.5 L392.3 310.5 L389 307.5 L388.2 306.7 M383 302.1 L382.4 301.5 L379.1 298.5 L376.6 296.3 M371.4 291.6 L369.1 289.5 L365.9 286.5 L365 285.7 M359.8 280.9 L359.3 280.5 L356 277.5 L353.3 275 M553.8 503.5 L553.5 502.5 L552.7 499.5 L552.6 498.8 M551.4 494.3 L551.2 493.5 L550.4 490.5 L549.8 488.6 M548.5 484.1 L547.8 481.5 L546.9 478.5 L546.8 478.3 M545.4 473.8 L545 472.5 L544 469.5 L543.5 468 M542 463.4 L540.9 460.5 L539.9 457.6 M538.1 452.9 L537.6 451.5 L536.4 448.5 L535.9 447.1 M533.9 442.4 L532.7 439.5 L531.4 436.5 M529.3 431.8 L528.7 430.5 L527.3 427.5 L526.5 425.9 M524.2 421.1 L522.8 418.5 L521.2 415.5 L521.1 415.2 M518.5 410.4 L518 409.5 L516.3 406.5 L515.1 404.4 M512.2 399.6 L510.9 397.5 L509.1 394.5 L508.4 393.5 M505.3 388.7 L505.2 388.5 L503.1 385.5 L501.1 382.6 M497.6 377.7 L496.8 376.5 L494.6 373.5 L493.1 371.5 M489.3 366.6 L487.6 364.5 L485.2 361.5 L484.3 360.4 M480.2 355.5 L477.7 352.5 L475 349.5 L474.8 349.3 M470.4 344.3 L469.7 343.5 L466.9 340.5 L464.6 338 M459.8 333 L458.4 331.5 L455.5 328.5 L453.7 326.7 M448.6 321.6 L446.5 319.5 L443.4 316.5 L442.3 315.4 M437.2 310.5 L434.1 307.5 L430.9 304.5 L430.8 304.4 M425.7 299.6 L424.5 298.5 L421.3 295.5 L419.3 293.6 M414.1 288.8 L411.6 286.5 L408.3 283.5 L407.6 282.9 M402.4 278.1 L401.8 277.5 L398.5 274.5 L395.9 272.1 M390.6 267.3 L388.7 265.5 L385.5 262.5 L384.1 261.3 M378.8 256.3 L375.8 253.5 L372.6 250.5 L372.3 250.2 M573 503.5 L572.8 502.5 L572.2 499.5 L572.1 498.8 M571.2 494.3 L571.1 493.5 L570.4 490.5 L570.1 488.6 M569.1 484.1 L568.5 481.5 L567.8 478.5 L567.8 478.3 M566.7 473.8 L566.4 472.5 L565.7 469.5 L565.3 468 M564.1 463.4 L563.4 460.5 L562.6 457.6 M561.3 452.9 L560.9 451.5 L560 448.5 L559.5 447.1 M558.1 442.4 L557.1 439.5 L556.2 436.5 M554.5 431.8 L554.1 430.5 L553 427.5 L552.4 425.9 M550.6 421.1 L549.6 418.5 L548.4 415.5 L548.2 415.2 M546.2 410.4 L545.8 409.5 L544.5 406.5 L543.5 404.4 M541.3 399.6 L540.3 397.5 L538.9 394.5 L538.4 393.5 M535.9 388.7 L535.8 388.5 L534.2 385.5 L532.6 382.6 M529.8 377.7 L529.1 376.5 L527.4 373.5 L526.2 371.5 M523.1 366.6 L521.7 364.5 L519.8 361.5 L519.1 360.4 M515.7 355.5 L513.6 352.5 L511.4 349.5 L511.2 349.3 M507.5 344.3 L506.9 343.5 L504.6 340.5 L502.6 338 M498.5 333 L497.3 331.5 L494.8 328.5 L493.2 326.7 M488.8 321.6 L486.9 319.5 L484.2 316.5 L483.1 315.3 M478.3 310.2 L475.8 307.5 L472.9 304.5 L472.3 303.8 M467.2 298.6 L467.1 298.5 L464.1 295.5 L461.1 292.5 L460.8 292.3 M455.6 287.2 L454.9 286.5 L451.8 283.5 L449.2 280.9 M443.9 276 L442.4 274.5 L439.2 271.5 L437.4 269.8 M432.1 264.9 L429.6 262.5 L426.3 259.5 L425.6 258.8 M420.3 253.9 L419.9 253.5 L416.6 250.5 L413.7 247.8 M408.4 242.8 L407 241.5 L403.8 238.5 L401.8 236.6 M396.4 231.6 L394.2 229.5 L391 226.5 L389.7 225.3 M590 503.5 L589.9 502.5 L589.5 499.5 L589.4 498.8 M588.8 494.3 L588.6 493.5 L588.2 490.5 L587.9 488.6 M587.2 484.1 L586.8 481.5 L586.3 478.5 L586.3 478.3 M585.5 473.8 L585.3 472.5 L584.7 469.5 L584.4 468 M583.6 463.4 L583 460.5 L582.4 457.6 M581.5 452.9 L581.2 451.5 L580.5 448.5 L580.2 447.1 M579.1 442.4 L578.4 439.5 L577.7 436.5 M576.5 431.8 L576.1 430.5 L575.3 427.5 L574.8 425.9 M573.5 421.1 L572.7 418.5 L571.8 415.5 L571.7 415.2 M570.2 410.4 L569.9 409.5 L568.9 406.5 L568.2 404.4 M566.4 399.6 L565.7 397.5 L564.6 394.5 L564.2 393.5 M562.3 388.7 L562.2 388.5 L561 385.5 L559.7 382.6 M557.6 377.7 L557.1 376.5 L555.7 373.5 L554.7 371.5 M552.3 366.6 L551.3 364.5 L549.7 361.5 L549.1 360.4 M546.4 355.5 L544.8 352.5 L543 349.5 L542.9 349.3 M539.9 344.3 L539.4 343.5 L537.5 340.5 L535.9 338 M532.6 333 L531.6 331.5 L529.5 328.5 L528.2 326.7 M524.5 321.6 L522.9 319.5 L520.6 316.5 L519.7 315.3 M515.6 310.2 L513.4 307.5 L510.9 304.5 L510.3 303.8 M505.9 298.6 L505.8 298.5 L503.2 295.5 L500.5 292.5 L500.2 292.2 M495.4 287 L495 286.5 L492.1 283.5 L489.4 280.6 M484.3 275.3 L483.5 274.5 L480.5 271.5 L477.9 268.8 M472.6 263.6 L471.4 262.5 L468.4 259.5 L466 257.3 M460.7 252.1 L459 250.5 L455.9 247.5 L454.2 245.9 M448.8 240.8 L446.3 238.5 L443.1 235.5 L442.2 234.6 M436.8 229.5 L436.8 229.5 L433.6 226.5 L430.4 223.5 L430.1 223.3 M424.7 218.1 L424 217.5 L420.8 214.5 L418 211.8 M412.5 206.6 L411.4 205.5 L408.3 202.5 L405.8 200.1 M605.3 503.5 L605.2 502.5 L604.9 499.5 L604.8 498.8 M604.4 494.3 L604.3 493.5 L604 490.5 L603.8 488.6 M603.3 484.1 L603 481.5 L602.7 478.5 L602.7 478.3 M602.1 473.8 L602 472.5 L601.6 469.5 L601.4 468 M600.8 463.4 L600.4 460.5 L600 457.6 M599.3 452.9 L599.1 451.5 L598.6 448.5 L598.4 447.1 M597.6 442.4 L597.1 439.5 L596.5 436.5 M595.7 431.8 L595.4 430.5 L594.8 427.5 L594.5 425.9 M593.5 421.1 L592.9 418.5 L592.3 415.5 L592.2 415.2 M591.1 410.4 L590.9 409.5 L590.1 406.5 L589.6 404.4 M588.3 399.6 L587.7 397.5 L586.9 394.5 L586.6 393.5 M585.2 388.7 L585.1 388.5 L584.2 385.5 L583.2 382.6 M581.6 377.7 L581.2 376.5 L580.2 373.5 L579.4 371.5 M577.6 366.6 L576.8 364.5 L575.6 361.5 L575.1 360.4 M573.1 355.5 L571.7 352.5 L570.4 349.5 L570.3 349.3 M567.9 344.3 L567.6 343.5 L566.1 340.5 L564.8 338 M562.1 333 L561.3 331.5 L559.7 328.5 L558.6 326.7 M555.7 321.6 L554.4 319.5 L552.5 316.5 L551.7 315.3 M548.4 310.2 L546.6 307.5 L544.6 304.5 L544.1 303.8 M540.4 298.6 L540.3 298.5 L538 295.5 L535.8 292.5 L535.5 292.2 M531.5 287 L531.1 286.5 L528.6 283.5 L526.2 280.6 M521.7 275.3 L521 274.5 L518.4 271.5 L516 268.8 M511.2 263.6 L510.3 262.5 L507.5 259.5 L505.1 257 M500 251.7 L498.8 250.5 L495.9 247.5 L493.5 245.1 M488.2 239.8 L486.9 238.5 L483.8 235.5 L481.6 233.3 M476.2 228.1 L474.5 226.5 L471.4 223.5 L469.5 221.7 M464 216.5 L462 214.5 L458.8 211.5 L457.4 210.1 M451.9 204.9 L449.4 202.5 L446.2 199.5 L445.1 198.5 M439.6 193.2 L436.8 190.5 L433.7 187.5 L432.8 186.7 M619 503.5 L619 502.5 L618.8 499.5 L618.8 498.8 M618.5 494.3 L618.4 493.5 L618.2 490.5 L618.1 488.6 M617.8 484.1 L617.6 481.5 L617.4 478.5 L617.4 478.3 M617 473.8 L616.9 472.5 L616.7 469.5 L616.5 468 M616.1 463.4 L615.9 460.5 L615.6 457.6 M615.1 452.9 L615 451.5 L614.7 448.5 L614.5 447.1 M614 442.4 L613.6 439.5 L613.3 436.5 M612.7 431.8 L612.5 430.5 L612.1 427.5 L611.9 425.9 M611.2 421.1 L610.8 418.5 L610.3 415.5 L610.2 415.2 M609.4 410.4 L609.3 409.5 L608.8 406.5 L608.4 404.4 M607.5 399.6 L607 397.5 L606.4 394.5 L606.2 393.5 M605.2 388.7 L605.1 388.5 L604.5 385.5 L603.8 382.6 M602.6 377.7 L602.3 376.5 L601.5 373.5 L601 371.5 M599.6 366.6 L599 364.5 L598.1 361.5 L597.7 360.4 M596.2 355.5 L595.2 352.5 L594.1 349.5 L594.1 349.3 M592.3 344.3 L592 343.5 L590.8 340.5 L589.9 338 M587.8 333 L587.2 331.5 L585.9 328.5 L585.1 326.7 M582.8 321.6 L581.8 319.5 L580.3 316.5 L579.7 315.3 M577 310.2 L575.6 307.5 L574 304.5 L573.6 303.8 M570.6 298.6 L570.5 298.5 L568.7 295.5 L566.8 292.5 L566.7 292.2 M563.3 287 L563 286.5 L560.9 283.5 L558.9 280.6 M555.2 275.3 L554.6 274.5 L552.4 271.5 L550.4 268.8 M546.2 263.6 L545.4 262.5 L543 259.5 L540.9 257 M536.4 251.7 L535.4 250.5 L532.7 247.5 L530.6 245.1 M525.8 239.8 L524.6 238.5 L521.8 235.5 L519.6 233.2 M514.4 227.7 L513.2 226.5 L510.3 223.5 L507.9 221.1 M502.4 215.6 L501.3 214.5 L498.3 211.5 L495.8 209 M490.3 203.7 L489 202.5 L485.9 199.5 L483.5 197.2 M478 191.8 L476.6 190.5 L473.5 187.5 L471.2 185.3 M465.6 180 L464.1 178.5 L461 175.5 L458.8 173.4 M453.2 167.9 L451.7 166.5 L448.6 163.5 L446.3 161.2 M631.5 503.5 L631.5 502.5 L631.4 499.5 L631.4 498.8 M631.2 494.3 L631.2 493.5 L631.1 490.5 L631 488.6 M630.9 484.1 L630.8 481.5 L630.7 478.5 L630.7 478.3 M630.5 473.8 L630.4 472.5 L630.3 469.5 L630.2 468 M630 463.4 L629.8 460.5 L629.7 457.6 M629.4 452.9 L629.3 451.5 L629.1 448.5 L629 447.1 M628.7 442.4 L628.5 439.5 L628.2 436.5 M627.9 431.8 L627.7 430.5 L627.5 427.5 L627.3 425.9 M626.9 421.1 L626.6 418.5 L626.3 415.5 L626.3 415.2 M625.7 410.4 L625.6 409.5 L625.3 406.5 L625 404.4 M624.4 399.6 L624.1 397.5 L623.7 394.5 L623.6 393.5 M622.8 388.7 L622.8 388.5 L622.3 385.5 L621.8 382.6 M621 377.7 L620.8 376.5 L620.2 373.5 L619.8 371.5 M618.9 366.6 L618.4 364.5 L617.8 361.5 L617.5 360.4 M616.4 355.5 L615.6 352.5 L614.9 349.5 L614.8 349.3 M613.5 344.3 L613.3 343.5 L612.4 340.5 L611.7 338 M610.2 333 L609.7 331.5 L608.7 328.5 L608.1 326.7 M606.3 321.6 L605.6 319.5 L604.4 316.5 L604 315.3 M601.9 310.2 L600.8 307.5 L599.5 304.5 L599.2 303.8 M596.9 298.6 L596.8 298.5 L595.4 295.5 L594 292.5 L593.8 292.2 M591.2 287 L590.9 286.5 L589.3 283.5 L587.7 280.6 M584.6 275.3 L584.1 274.5 L582.3 271.5 L580.7 268.8 M577.3 263.6 L576.6 262.5 L574.6 259.5 L572.8 257 M569 251.7 L568.2 250.5 L565.9 247.5 L564.1 245.1 M559.9 239.8 L558.9 238.5 L556.5 235.5 L554.5 233.2 M549.9 227.7 L548.8 226.5 L546.2 223.5 L544.1 221.1 M539.1 215.6 L538.1 214.5 L535.3 211.5 L532.8 208.9 M527.6 203.4 L526.6 202.5 L523.7 199.5 L521 196.7 M515.4 191.2 L514.8 190.5 L511.7 187.5 L508.7 184.5 L508.7 184.5 M503.1 179 L502.6 178.5 L499.5 175.5 L496.4 172.5 L496.3 172.3 M490.6 166.9 L490.2 166.5 L487.1 163.5 L484.1 160.5 L483.8 160.2 M478.1 154.7 L477.9 154.5 L474.8 151.5 L471.8 148.5 L471.2 147.9 M642.9 503.5 L642.9 502.5 L642.9 499.5 L642.9 498.8 M642.9 494.3 L642.9 493.5 L642.9 490.5 L642.8 488.6 M642.8 484.1 L642.8 481.5 L642.7 478.5 L642.7 478.3 M642.7 473.8 L642.7 472.5 L642.6 469.5 L642.6 468 M642.5 463.4 L642.4 460.5 L642.4 457.6 M642.3 452.9 L642.2 451.5 L642.1 448.5 L642.1 447.1 M641.9 442.4 L641.8 439.5 L641.7 436.5 M641.5 431.8 L641.5 430.5 L641.3 427.5 L641.2 425.9 M641 421.1 L640.8 418.5 L640.7 415.5 L640.6 415.2 M640.3 410.4 L640.3 409.5 L640.1 406.5 L639.9 404.4 M639.5 399.6 L639.4 397.5 L639.1 394.5 L639 393.5 M638.5 388.7 L638.5 388.5 L638.2 385.5 L637.9 382.6 M637.3 377.7 L637.2 376.5 L636.8 373.5 L636.6 371.5 M635.9 366.6 L635.6 364.5 L635.1 361.5 L635 360.4 M634.2 355.5 L633.7 352.5 L633.1 349.5 L633.1 349.3 M632.1 344.3 L632 343.5 L631.4 340.5 L630.9 338 M629.8 333 L629.4 331.5 L628.7 328.5 L628.3 326.7 M626.9 321.6 L626.4 319.5 L625.5 316.5 L625.2 315.3 M623.7 310.2 L622.8 307.5 L621.9 304.5 L621.6 303.8 M619.9 298.6 L619.8 298.5 L618.7 295.5 L617.6 292.5 L617.5 292.2 M615.5 287 L615.2 286.5 L614 283.5 L612.7 280.6 M610.4 275.3 L610 274.5 L608.6 271.5 L607.2 268.8 M604.5 263.6 L604 262.5 L602.4 259.5 L601 257 M597.9 251.7 L597.2 250.5 L595.3 247.5 L593.9 245.1 M590.4 239.8 L589.5 238.5 L587.5 235.5 L585.8 233.2 M581.9 227.7 L581 226.5 L578.8 223.5 L576.9 221.1 M572.6 215.6 L571.7 214.5 L569.2 211.5 L567 208.9 M562.3 203.4 L561.5 202.5 L558.8 199.5 L556.3 196.7 M551.3 191.2 L550.6 190.5 L547.8 187.5 L545 184.5 L544.9 184.4 M539.5 178.8 L539.2 178.5 L536.3 175.5 L533.3 172.5 L532.8 172 M527.2 166.4 L524.3 163.5 L521.3 160.5 L520.3 159.5 M514.7 154 L512.2 151.5 L509.1 148.5 L507.8 147.2 M502 141.6 L499.9 139.5 L496.9 136.5 L495.1 134.7 M489.3 129.1 L487.8 127.5 L484.7 124.5 L482.3 122.1 M653.4 503.5 L653.4 502.5 L653.5 499.5 L653.5 498.8 M653.6 494.3 L653.6 493.5 L653.6 490.5 L653.7 488.6 M653.7 484.1 L653.8 481.5 L653.8 478.5 L653.8 478.3 M653.9 473.8 L653.9 472.5 L653.9 469.5 L653.9 468 M653.9 463.4 L654 460.5 L654 457.6 M654 452.9 L654 451.5 L654 448.5 L654 447.1 M654 442.4 L654 439.5 L654 436.5 M653.9 431.8 L653.9 430.5 L653.9 427.5 L653.8 425.9 M653.8 421.1 L653.7 418.5 L653.6 415.5 L653.6 415.2 M653.5 410.4 L653.5 409.5 L653.4 406.5 L653.3 404.4 M653.1 399.6 L653 397.5 L652.9 394.5 L652.9 393.5 M652.6 388.7 L652.6 388.5 L652.4 385.5 L652.3 382.6 M651.9 377.7 L651.9 376.5 L651.6 373.5 L651.5 371.5 M651.1 366.6 L650.9 364.5 L650.6 361.5 L650.5 360.4 M650 355.5 L649.7 352.5 L649.3 349.5 L649.3 349.3 M648.7 344.3 L648.6 343.5 L648.2 340.5 L647.8 338 M647 333 L646.8 331.5 L646.3 328.5 L646 326.7 M645.1 321.6 L644.7 319.5 L644.1 316.5 L643.9 315.3 M642.8 310.2 L642.2 307.5 L641.5 304.5 L641.3 303.8 M640 298.6 L639.9 298.5 L639.1 295.5 L638.3 292.5 L638.2 292.2 M636.7 287 L636.5 286.5 L635.6 283.5 L634.7 280.6 M632.9 275.3 L632.6 274.5 L631.5 271.5 L630.5 268.8 M628.4 263.6 L627.9 262.5 L626.7 259.5 L625.6 257 M623.2 251.7 L622.6 250.5 L621.2 247.5 L620 245.1 M617.2 239.8 L616.5 238.5 L614.9 235.5 L613.5 233.2 M610.3 227.7 L609.6 226.5 L607.7 223.5 L606.2 221.1 M602.6 215.6 L601.8 214.5 L599.7 211.5 L597.9 208.9 M593.8 203.4 L593.1 202.5 L590.8 199.5 L588.7 196.7 M584.2 191.2 L583.6 190.5 L581.1 187.5 L578.6 184.5 L578.5 184.4 M573.6 178.8 L573.4 178.5 L570.7 175.5 L568 172.5 L567.5 172 M562.3 166.4 L559.6 163.5 L556.7 160.5 L555.8 159.5 M550.3 153.8 L548 151.5 L545 148.5 L543.5 146.9 M537.8 141.2 L536.1 139.5 L533.1 136.5 L530.8 134.3 M525.1 128.6 L524 127.5 L520.9 124.5 L518.1 121.6 M512.3 115.9 L511.9 115.5 L508.9 112.5 L505.9 109.5 L505.2 108.9 M663.1 503.5 L663.2 502.5 L663.3 499.5 L663.3 498.8 M663.4 494.3 L663.5 493.5 L663.6 490.5 L663.6 488.6 M663.8 484.1 L663.9 481.5 L664 478.5 L664 478.3 M664.1 473.8 L664.2 472.5 L664.3 469.5 L664.3 468 M664.5 463.4 L664.5 460.5 L664.6 457.6 M664.7 452.9 L664.8 451.5 L664.9 448.5 L664.9 447.1 M665 442.4 L665.1 439.5 L665.1 436.5 M665.2 431.8 L665.2 430.5 L665.3 427.5 L665.3 425.9 M665.4 421.1 L665.4 418.5 L665.4 415.5 L665.4 415.2 M665.5 410.4 L665.5 409.5 L665.5 406.5 L665.5 404.4 M665.5 399.6 L665.4 397.5 L665.4 394.5 L665.4 393.5 M665.3 388.7 L665.3 388.5 L665.3 385.5 L665.2 382.6 M665.1 377.7 L665.1 376.5 L665 373.5 L664.9 371.5 M664.7 366.6 L664.6 364.5 L664.5 361.5 L664.5 360.4 M664.2 355.5 L664 352.5 L663.8 349.5 L663.8 349.3 M663.4 344.3 L663.4 343.5 L663.1 340.5 L662.9 338 M662.5 333 L662.3 331.5 L662 328.5 L661.8 326.7 M661.2 321.6 L660.9 319.5 L660.5 316.5 L660.4 315.3 M659.6 310.2 L659.2 307.5 L658.7 304.5 L658.6 303.8 M657.7 298.6 L657.7 298.5 L657.1 295.5 L656.6 292.5 L656.5 292.2 M655.4 287 L655.3 286.5 L654.6 283.5 L653.9 280.6 M652.6 275.3 L652.4 274.5 L651.6 271.5 L650.8 268.8 M649.3 263.6 L649 262.5 L648 259.5 L647.2 257 M645.3 251.7 L644.9 250.5 L643.8 247.5 L642.9 245.1 M640.7 239.8 L640.2 238.5 L638.9 235.5 L637.9 233.2 M635.3 227.7 L634.7 226.5 L633.3 223.5 L632 221.1 M629.1 215.6 L628.5 214.5 L626.8 211.5 L625.3 208.9 M622 203.4 L621.4 202.5 L619.5 199.5 L617.6 196.7 M613.9 191.2 L613.4 190.5 L611.3 187.5 L609.1 184.5 L609 184.4 M604.8 178.8 L604.5 178.5 L602.2 175.5 L599.8 172.5 L599.4 172 M594.7 166.4 L592.3 163.5 L589.7 160.5 L588.9 159.5 M583.8 153.8 L581.7 151.5 L579 148.5 L577.5 146.9 M572.1 141.2 L570.5 139.5 L567.7 136.5 L565.5 134.2 M559.9 128.5 L558.9 127.5 L555.9 124.5 L553 121.5 L553 121.5 M547.2 115.7 L547 115.5 L544 112.5 L541 109.5 L540.2 108.6 M534.3 102.8 L532 100.5 L529 97.5 L527.3 95.7 M521.4 89.8 L520.1 88.5 L517.1 85.5 L514.4 82.7 M672.1 503.5 L672.2 502.5 L672.3 499.5 L672.4 498.8 M672.6 494.3 L672.6 493.5 L672.8 490.5 L672.9 488.6 M673.1 484.1 L673.2 481.5 L673.4 478.5 L673.4 478.3 M673.6 473.8 L673.7 472.5 L673.8 469.5 L673.9 468 M674.1 463.4 L674.3 460.5 L674.4 457.6 M674.7 452.9 L674.7 451.5 L674.9 448.5 L674.9 447.1 M675.1 442.4 L675.3 439.5 L675.4 436.5 M675.6 431.8 L675.7 430.5 L675.8 427.5 L675.8 425.9 M676 421.1 L676.1 418.5 L676.2 415.5 L676.2 415.2 M676.4 410.4 L676.4 409.5 L676.5 406.5 L676.6 404.4 M676.7 399.6 L676.8 397.5 L676.8 394.5 L676.8 393.5 M676.9 388.7 L676.9 388.5 L677 385.5 L677 382.6 M677.1 377.7 L677.1 376.5 L677.1 373.5 L677.1 371.5 M677.1 366.6 L677.1 364.5 L677.1 361.5 L677.1 360.4 M677 355.5 L676.9 352.5 L676.9 349.5 L676.9 349.3 M676.7 344.3 L676.7 343.5 L676.6 340.5 L676.5 338 M676.3 333 L676.2 331.5 L676 328.5 L675.9 326.7 M675.6 321.6 L675.5 319.5 L675.2 316.5 L675.1 315.3 M674.7 310.2 L674.4 307.5 L674.1 304.5 L674.1 303.8 M673.5 298.6 L673.5 298.5 L673.1 295.5 L672.7 292.5 L672.7 292.2 M672 287 L671.9 286.5 L671.4 283.5 L671 280.6 M670.1 275.3 L669.9 274.5 L669.3 271.5 L668.8 268.8 M667.7 263.6 L667.5 262.5 L666.8 259.5 L666.2 257 M664.8 251.7 L664.5 250.5 L663.7 247.5 L663 245.1 M661.4 239.8 L661 238.5 L660 235.5 L659.2 233.2 M657.3 227.7 L656.8 226.5 L655.7 223.5 L654.7 221.1 M652.5 215.6 L652 214.5 L650.7 211.5 L649.5 208.9 M646.8 203.4 L646.4 202.5 L644.8 199.5 L643.3 196.7 M640.3 191.2 L639.9 190.5 L638.1 187.5 L636.3 184.5 L636.3 184.4 M632.8 178.8 L632.6 178.5 L630.6 175.5 L628.6 172.5 L628.2 172 M624.2 166.4 L622.1 163.5 L619.9 160.5 L619.1 159.5 M614.7 153.8 L612.8 151.5 L610.4 148.5 L609.1 146.9 M604.2 141.2 L602.8 139.5 L600.1 136.5 L598.1 134.2 M592.9 128.5 L592 127.5 L589.2 124.5 L586.4 121.5 L586.4 121.5 M580.9 115.7 L580.7 115.5 L577.8 112.5 L574.9 109.5 L574.1 108.6 M568.4 102.8 L566.1 100.5 L563.2 97.5 L561.4 95.7 M555.6 89.8 L554.2 88.5 L551.3 85.5 L548.5 82.7 M542.6 76.8 L542.4 76.5 L540.4 74.5 M680.5 503.5 L680.6 502.5 L680.8 499.5 L680.8 498.8 M681.1 494.3 L681.1 493.5 L681.3 490.5 L681.5 488.6 M681.8 484.1 L681.9 481.5 L682.1 478.5 L682.1 478.3 M682.4 473.8 L682.5 472.5 L682.7 469.5 L682.8 468 M683.1 463.4 L683.3 460.5 L683.5 457.6 M683.8 452.9 L683.9 451.5 L684.1 448.5 L684.2 447.1 M684.5 442.4 L684.7 439.5 L684.9 436.5 M685.2 431.8 L685.3 430.5 L685.4 427.5 L685.5 425.9 M685.8 421.1 L686 418.5 L686.2 415.5 L686.2 415.2 M686.4 410.4 L686.5 409.5 L686.7 406.5 L686.8 404.4 M687 399.6 L687.1 397.5 L687.3 394.5 L687.3 393.5 M687.5 388.7 L687.5 388.5 L687.7 385.5 L687.8 382.6 M688 377.7 L688 376.5 L688.1 373.5 L688.2 371.5 M688.4 366.6 L688.4 364.5 L688.5 361.5 L688.5 360.4 M688.6 355.5 L688.7 352.5 L688.7 349.5 L688.7 349.3 M688.8 344.3 L688.8 343.5 L688.8 340.5 L688.8 338 M688.8 333 L688.8 331.5 L688.7 328.5 L688.7 326.7 M688.6 321.6 L688.5 319.5 L688.5 316.5 L688.4 315.3 M688.2 310.2 L688.1 307.5 L688 304.5 L687.9 303.8 M687.6 298.6 L687.6 298.5 L687.4 295.5 L687.2 292.5 L687.2 292.2 M686.8 287 L686.7 286.5 L686.4 283.5 L686.1 280.6 M685.6 275.3 L685.5 274.5 L685.1 271.5 L684.8 268.8 M684 263.6 L683.9 262.5 L683.4 259.5 L683 257 M682.1 251.7 L681.9 250.5 L681.3 247.5 L680.8 245.1 M679.6 239.8 L679.4 238.5 L678.7 235.5 L678.1 233.2 M676.7 227.7 L676.3 226.5 L675.5 223.5 L674.8 221.1 M673 215.6 L672.7 214.5 L671.7 211.5 L670.8 208.9 M668.7 203.4 L668.4 202.5 L667.2 199.5 L666 196.7 M663.6 191.2 L663.3 190.5 L661.9 187.5 L660.5 184.5 L660.4 184.4 M657.6 178.8 L657.4 178.5 L655.8 175.5 L654.2 172.5 L653.9 172 M650.6 166.4 L648.9 163.5 L647 160.5 L646.4 159.5 M642.6 153.8 L641.1 151.5 L639 148.5 L637.8 146.9 M633.6 141.2 L632.3 139.5 L630 136.5 L628.2 134.2 M623.6 128.5 L622.8 127.5 L620.3 124.5 L617.7 121.5 L617.7 121.5 M612.6 115.7 L612.5 115.5 L609.8 112.5 L607.1 109.5 L606.3 108.6 M600.9 102.8 L598.7 100.5 L595.9 97.5 L594.2 95.7 M588.5 89.8 L587.3 88.5 L584.4 85.5 L581.6 82.7 M575.8 76.8 L575.6 76.5 L573.6 74.5 M688.3 503.5 L688.4 502.5 L688.6 499.5 L688.7 498.8 M689 494.3 L689.1 493.5 L689.3 490.5 L689.5 488.6 M689.8 484.1 L690 481.5 L690.3 478.5 L690.3 478.3 M690.7 473.8 L690.8 472.5 L691 469.5 L691.1 468 M691.5 463.4 L691.7 460.5 L692 457.6 M692.3 452.9 L692.5 451.5 L692.7 448.5 L692.8 447.1 M693.2 442.4 L693.4 439.5 L693.7 436.5 M694 431.8 L694.2 430.5 L694.4 427.5 L694.5 425.9 M694.9 421.1 L695.1 418.5 L695.3 415.5 L695.4 415.2 M695.7 410.4 L695.8 409.5 L696 406.5 L696.2 404.4 M696.5 244.4 L696.1 241.5 L695.7 238.8 M694.8 233.4 L694.7 232.5 L694.1 229.5 L693.6 226.8 M692.5 221.3 L692.3 220.5 L691.7 217.5 L691 214.7 M689.6 209.2 L689.4 208.5 L688.6 205.5 L687.8 202.5 L687.8 202.5 M686.1 197 L685.9 196.5 L685 193.5 L684 190.5 L683.8 190.2 M681.8 184.6 L681.8 184.5 L680.6 181.5 L679.4 178.5 L679.1 177.8 M676.7 172.2 L675.5 169.5 L674.1 166.5 L673.6 165.4 M670.7 159.7 L669.6 157.5 L668 154.5 L667 152.8 M663.7 147.1 L662.8 145.5 L660.9 142.5 L659.5 140.2 M655.7 134.5 L655 133.5 L653 130.5 L650.8 127.5 L650.8 127.5 M646.6 121.7 L646.4 121.5 L644.1 118.5 L641.8 115.5 L641.2 114.7 M636.5 108.9 L634.5 106.5 L632 103.5 L630.5 101.8 M625.4 95.9 L624.1 94.5 L621.4 91.5 L619 88.8 M613.6 82.9 L613.2 82.5 L610.4 79.5 L607.5 76.5 L606.8 75.7 M695.7 503.5 L695.8 502.5 L696 499.5 L696.1 498.8 M696.5 494.3 L696.5 494.1 M696.5 171.3 L695.9 169.5 L694.8 166.5 L694.4 165.5 M692.2 159.8 L691.3 157.5 L690 154.5 L689.3 152.9 M686.7 147.2 L685.9 145.5 L684.4 142.5 L683.2 140.3 M680.2 134.6 L679.6 133.5 L677.9 130.5 L676.2 127.6 M672.6 121.8 L672.4 121.5 L670.5 118.5 L668.5 115.5 L668 114.8 M663.9 108.9 L662.2 106.5 L660 103.5 L658.7 101.9 M654.2 96 L653 94.5 L650.6 91.5 L648.4 88.9 M643.5 83 L643 82.5 L640.5 79.5 L637.8 76.5 L637.2 75.8 M696.5 123.2 L695.7 121.5 L694.1 118.5 L693.3 117.1 M690.1 111.3 L689 109.5 L687.2 106.5 L685.8 104.3 M682 98.4 L681.4 97.5 L679.4 94.5 L677.3 91.5 L677.1 91.3 M672.9 85.4 L670.7 82.5 L668.4 79.5 L667.4 78.2"/>
<path stroke="#4a0084" d="M147.6 503.5 L148.5 502.5 L149.2 501.6 M154.7 495.2 L156.2 493.5 L158.7 490.5 L160.6 488.3 M166.1 481.9 L166.5 481.5 L169 478.5 L171.6 475.5 L172 475 M177.5 468.6 L179.3 466.5 L181.9 463.5 L183.5 461.7 M189 455.3 L189.7 454.5 L192.3 451.5 L194.9 448.5 L194.9 448.4 M200.5 442 L202.6 439.5 L205.2 436.5 L206.4 435.1 M212 428.7 L213 427.5 L215.6 424.5 L218 421.8 M223.5 415.4 L226 412.5 L228.7 409.5 L229.5 408.5 M235.1 402.1 L236.5 400.5 L239.1 397.5 L241.1 395.2 M246.7 388.8 L247 388.5 L249.6 385.5 L252.2 382.5 L252.7 381.9 M258.3 375.5 L260.1 373.5 L262.7 370.5 L264.4 368.6 M270 362.2 L270.6 361.5 L273.3 358.5 L275.9 355.5 L276.1 355.3 M281.7 348.9 L283.8 346.5 L286.5 343.5 L287.8 342 M293.4 335.6 L294.4 334.5 L297 331.5 L299.5 328.7 M305.2 322.3 L307.6 319.5 L310.3 316.5 L311.3 315.4 M316.9 309 L318.3 307.5 L320.9 304.5 L323.1 302.1 M328.7 295.7 L328.9 295.5 L331.6 292.5 L334.3 289.5 L334.9 288.8 M340.6 282.4 L342.3 280.5 L345 277.5 L346.7 275.5 M352.4 269.1 L353 268.5 L355.7 265.5 L358.3 262.5 L358.6 262.2 M364.3 255.8 L366.4 253.5 L369.1 250.5 L370.5 248.9 M376.2 242.5 L377.1 241.5 L379.8 238.5 L382.4 235.6 M388.2 229.2 L390.6 226.5 L393.3 223.5 L394.4 222.3 M400.1 215.9 L401.4 214.5 L404.1 211.5 L406.4 209 M412.1 202.6 L412.2 202.5 L414.9 199.5 L417.7 196.5 L418.4 195.7 M424.2 189.3 L425.8 187.5 L428.5 184.5 L430.4 182.4 M436.2 176 L436.7 175.5 L439.4 172.5 L442.1 169.5 L442.5 169.1 M448.3 162.7 L450.3 160.5 L453 157.5 L454.5 155.8 M460.4 149.4 L461.2 148.5 L463.9 145.5 L466.7 142.5 M472.5 136.1 L474.9 133.5 L477.6 130.5 L478.8 129.2 M484.6 122.8 L485.8 121.5 L488.6 118.5 L490.9 115.9 M496.8 109.5 L496.8 109.5 L499.6 106.5 L502.3 103.5 L503.1 102.6 M509 96.2 L510.6 94.5 L513.3 91.5 L515.3 89.3 M521.2 82.9 L521.6 82.5 L524.3 79.5 L527.1 76.5 L527.6 76 M193.8 503.5 L194.6 502.5 L195.3 501.6 M200.7 495.2 L202.1 493.5 L204.6 490.5 L206.4 488.3 M211.7 481.9 L212.1 481.5 L214.6 478.5 L217.1 475.5 L217.5 475 M222.8 468.6 L224.6 466.5 L227.1 463.5 L228.6 461.7 M234 455.3 L234.7 454.5 L237.2 451.5 L239.7 448.5 L239.8 448.4 M245.2 442 L247.3 439.5 L249.8 436.5 L251 435.1 M256.4 428.7 L257.4 427.5 L259.9 424.5 L262.2 421.8 M267.6 415.4 L270.1 412.5 L272.6 409.5 L273.4 408.5 M278.9 402.1 L280.2 400.5 L282.8 397.5 L284.7 395.2 M290.2 388.8 L290.5 388.5 L293 385.5 L295.6 382.5 L296.1 381.9 M301.5 375.5 L303.2 373.5 L305.8 370.5 L307.4 368.6 M312.9 362.2 L313.5 361.5 L316.1 358.5 L318.7 355.5 L318.8 355.3 M324.3 348.9 L326.4 346.5 L329 343.5 L330.2 342 M335.7 335.6 L336.7 334.5 L339.3 331.5 L341.7 328.7 M347.2 322.3 L349.6 319.5 L352.2 316.5 L353.2 315.4 M358.7 309 L360 307.5 L362.6 304.5 L364.7 302.1 M370.2 295.7 L370.4 295.5 L373 292.5 L375.6 289.5 L376.2 288.8 M381.8 282.4 L383.5 280.5 L386.1 277.5 L387.8 275.5 M393.4 269.1 L393.9 268.5 L396.5 265.5 L399.2 262.5 L399.4 262.2 M405 255.8 L407 253.5 L409.7 250.5 L411 248.9 M416.7 242.5 L417.5 241.5 L420.2 238.5 L422.7 235.6 M428.3 229.2 L430.7 226.5 L433.4 223.5 L434.4 222.3 M440 215.9 L441.3 214.5 L443.9 211.5 L446.1 209 M451.8 202.6 L451.9 202.5 L454.5 199.5 L457.2 196.5 L457.9 195.7 M463.5 189.3 L465.1 187.5 L467.8 184.5 L469.7 182.4 M475.3 176 L475.8 175.5 L478.5 172.5 L481.1 169.5 L481.5 169.1 M487.2 162.7 L489.1 160.5 L491.8 157.5 L493.3 155.8 M499 149.4 L499.8 148.5 L502.5 145.5 L505.2 142.5 M510.9 136.1 L513.2 133.5 L515.9 130.5 L517 129.2 M522.8 122.8 L523.9 121.5 L526.6 118.5 L529 115.9 M534.7 109.5 L534.7 109.5 L537.4 106.5 L540.1 103.5 L540.9 102.6 M546.7 96.2 L548.2 94.5 L550.9 91.5 L552.9 89.3 M558.6 82.9 L559 82.5 L561.7 79.5 L564.4 76.5 L564.9 76 M259.7 503.5 L260.5 502.5 L261.3 501.6 M266.3 495.2 L267.7 493.5 L270.1 490.5 L271.8 488.3 M276.9 481.9 L277.3 481.5 L279.7 478.5 L282.1 475.5 L282.4 475 M287.6 468.6 L289.3 466.5 L291.7 463.5 L293.1 461.7 M298.2 455.3 L298.9 454.5 L301.3 451.5 L303.7 448.5 L303.8 448.4 M309 442 L311 439.5 L313.4 436.5 L314.5 435.1 M319.7 428.7 L320.7 427.5 L323.1 424.5 L325.3 421.8 M330.5 415.4 L332.9 412.5 L335.3 409.5 L336.1 408.5 M341.3 402.1 L342.7 400.5 L345.1 397.5 L347 395.2 M352.2 388.8 L352.5 388.5 L354.9 385.5 L357.4 382.5 L357.9 381.9 M363.1 375.5 L364.8 373.5 L367.2 370.5 L368.8 368.6 M374.1 362.2 L374.7 361.5 L377.1 358.5 L379.6 355.5 L379.8 355.3 M385 348.9 L387 346.5 L389.5 343.5 L390.8 342 M396.1 335.6 L397 334.5 L399.5 331.5 L401.8 328.7 M407.1 322.3 L409.5 319.5 L412 316.5 L412.9 315.4 M418.2 309 L419.5 307.5 L422 304.5 L424 302.1 M429.3 295.7 L429.5 295.5 L432 292.5 L434.5 289.5 L435.1 288.8 M440.5 282.4 L442.1 280.5 L444.6 277.5 L446.3 275.5 M451.7 269.1 L452.2 268.5 L454.7 265.5 L457.2 262.5 L457.5 262.2 M462.9 255.8 L464.8 253.5 L467.4 250.5 L468.7 248.9 M474.2 242.5 L475 241.5 L477.6 238.5 L480 235.6 M485.4 229.2 L487.7 226.5 L490.3 223.5 L491.3 222.3 M496.8 215.9 L498 214.5 L500.5 211.5 L502.7 209 M508.1 202.6 L508.2 202.5 L510.8 199.5 L513.3 196.5 L514 195.7 M519.5 189.3 L521.1 187.5 L523.6 184.5 L525.4 182.4 M530.9 176 L531.4 175.5 L533.9 172.5 L536.5 169.5 L536.9 169.1 M542.4 162.7 L544.3 160.5 L546.9 157.5 L548.3 155.8 M553.9 149.4 L554.6 148.5 L557.2 145.5 L559.8 142.5 M565.4 136.1 L567.6 133.5 L570.2 130.5 L571.4 129.2 M576.9 122.8 L578.1 121.5 L580.7 118.5 L582.9 115.9 M588.5 109.5 L588.5 109.5 L591.1 106.5 L593.7 103.5 L594.5 102.6 M600.1 96.2 L601.6 94.5 L604.2 91.5 L606.1 89.3 M611.7 82.9 L612.1 82.5 L614.7 79.5 L617.3 76.5 L617.8 76 M313.9 503.5 L314.6 502.5 L315.3 501.6 M320.2 495.2 L321.5 493.5 L323.8 490.5 L325.5 488.3 M330.4 481.9 L330.7 481.5 L333 478.5 L335.3 475.5 L335.7 475 M340.6 468.6 L342.3 466.5 L344.6 463.5 L346 461.7 M350.9 455.3 L351.5 454.5 L353.9 451.5 L356.2 448.5 L356.3 448.4 M361.2 442 L363.2 439.5 L365.5 436.5 L366.6 435.1 M371.6 428.7 L372.5 427.5 L374.9 424.5 L377 421.8 M382 415.4 L384.3 412.5 L386.7 409.5 L387.4 408.5 M392.5 402.1 L393.7 400.5 L396.1 397.5 L397.9 395.2 M403 388.8 L403.2 388.5 L405.6 385.5 L408 382.5 L408.4 381.9 M413.5 375.5 L415.1 373.5 L417.5 370.5 L419 368.6 M424.1 362.2 L424.6 361.5 L427 358.5 L429.4 355.5 L429.6 355.3 M434.7 348.9 L436.6 346.5 L439 343.5 L440.2 342 M445.4 335.6 L446.2 334.5 L448.7 331.5 L450.9 328.7 M456.1 322.3 L458.3 319.5 L460.7 316.5 L461.6 315.4 M466.8 309 L468 307.5 L470.4 304.5 L472.4 302.1 M477.6 295.7 L477.7 295.5 L480.2 292.5 L482.6 289.5 L483.2 288.8 M488.4 282.4 L489.9 280.5 L492.4 277.5 L494 275.5 M499.2 269.1 L499.7 268.5 L502.2 265.5 L504.6 262.5 L504.9 262.2 M510.1 255.8 L512 253.5 L514.5 250.5 L515.8 248.9 M521 242.5 L521.9 241.5 L524.3 238.5 L526.7 235.6 M532 229.2 L534.2 226.5 L536.7 223.5 L537.7 222.3 M543 215.9 L544.2 214.5 L546.7 211.5 L548.7 209 M554 202.6 L554.1 202.5 L556.6 199.5 L559.1 196.5 L559.8 195.7 M565.1 189.3 L566.6 187.5 L569.1 184.5 L570.9 182.4 M576.2 176 L576.6 175.5 L579.1 172.5 L581.7 169.5 L582 169.1 M587.4 162.7 L589.2 160.5 L591.7 157.5 L593.1 155.8 M598.5 149.4 L599.3 148.5 L601.8 145.5 L604.3 142.5 M609.7 136.1 L611.9 133.5 L614.5 130.5 L615.6 129.2 M621 122.8 L622.1 121.5 L624.6 118.5 L626.8 115.9 M632.2 109.5 L632.3 109.5 L634.8 106.5 L637.4 103.5 L638.1 102.6 M643.6 96.2 L645 94.5 L647.6 91.5 L649.4 89.3 M654.9 82.9 L655.2 82.5 L657.8 79.5 L660.4 76.5 L660.8 76 M347.3 503.5 L348.1 502.5 L348.8 501.6 M353.5 495.2 L354.8 493.5 L357 490.5 L358.7 488.3 M363.5 481.9 L363.8 481.5 L366 478.5 L368.3 475.5 L368.6 475 M373.4 468.6 L375 466.5 L377.3 463.5 L378.6 461.7 M383.5 455.3 L384.1 454.5 L386.4 451.5 L388.6 448.5 L388.7 448.4 M393.6 442 L395.5 439.5 L397.7 436.5 L398.8 435.1 M403.7 428.7 L404.6 427.5 L406.9 424.5 L408.9 421.8 M413.8 415.4 L416.1 412.5 L418.4 409.5 L419.1 408.5 M424.1 402.1 L425.3 400.5 L427.6 397.5 L429.4 395.2 M434.3 388.8 L434.6 388.5 L436.9 385.5 L439.2 382.5 L439.7 381.9 M444.6 375.5 L446.2 373.5 L448.5 370.5 L450 368.6 M455 362.2 L455.5 361.5 L457.9 358.5 L460.2 355.5 L460.4 355.3 M465.4 348.9 L467.2 346.5 L469.6 343.5 L470.8 342 M475.8 335.6 L476.7 334.5 L479 331.5 L481.2 328.7 M486.3 322.3 L488.5 319.5 L490.8 316.5 L491.7 315.4 M496.8 309 L498 307.5 L500.4 304.5 L502.2 302.1 M507.3 295.7 L507.5 295.5 L509.9 292.5 L512.3 289.5 L512.8 288.8 M517.9 282.4 L519.5 280.5 L521.9 277.5 L523.4 275.5 M528.6 269.1 L529.1 268.5 L531.5 265.5 L533.9 262.5 L534.1 262.2 M539.2 255.8 L541.1 253.5 L543.5 250.5 L544.8 248.9 M550 242.5 L550.8 241.5 L553.2 238.5 L555.5 235.6 M560.7 229.2 L562.9 226.5 L565.3 223.5 L566.3 222.3 M571.5 215.9 L572.6 214.5 L575.1 211.5 L577.1 209 M582.3 202.6 L582.4 202.5 L584.9 199.5 L587.3 196.5 L588 195.7 M593.2 189.3 L594.7 187.5 L597.1 184.5 L598.9 182.4 M604.1 176 L604.5 175.5 L607 172.5 L609.5 169.5 L609.8 169.1 M615.1 162.7 L616.9 160.5 L619.3 157.5 L620.7 155.8 M626 149.4 L626.8 148.5 L629.3 145.5 L631.7 142.5 M637 136.1 L639.2 133.5 L641.7 130.5 L642.8 129.2 M648.1 122.8 L649.2 121.5 L651.7 118.5 L653.8 115.9 M659.2 109.5 L659.2 109.5 L661.7 106.5 L664.2 103.5 L664.9 102.6 M670.3 96.2 L671.7 94.5 L674.2 91.5 L676.1 89.3 M681.5 82.9 L681.8 82.5 L684.3 79.5 L686.8 76.5 L687.3 76 M372 503.5 L372.7 502.5 L373.4 501.6 M378 495.2 L379.3 493.5 L381.5 490.5 L383.1 488.3 M387.8 481.9 L388.1 481.5 L390.3 478.5 L392.5 475.5 L392.9 475 M397.6 468.6 L399.1 466.5 L401.4 463.5 L402.7 461.7 M407.4 455.3 L408 454.5 L410.3 451.5 L412.5 448.5 L412.6 448.4 M417.3 442 L419.2 439.5 L421.4 436.5 L422.5 435.1 M427.3 428.7 L428.2 427.5 L430.4 424.5 L432.4 421.8 M437.2 415.4 L439.4 412.5 L441.7 409.5 L442.4 408.5 M447.3 402.1 L448.5 400.5 L450.8 397.5 L452.5 395.2 M457.4 388.8 L457.6 388.5 L459.9 385.5 L462.2 382.5 L462.6 381.9 M467.5 375.5 L469 373.5 L471.3 370.5 L472.8 368.6 M477.7 362.2 L478.2 361.5 L480.5 358.5 L482.8 355.5 L483 355.3 M487.9 348.9 L489.7 346.5 L492 343.5 L493.2 342 M498.1 335.6 L499 334.5 L501.3 331.5 L503.5 328.7 M508.4 322.3 L510.6 319.5 L513 316.5 L513.8 315.4 M518.8 309 L520 307.5 L522.3 304.5 L524.2 302.1 M529.2 295.7 L529.4 295.5 L531.7 292.5 L534.1 289.5 L534.6 288.8 M539.6 282.4 L541.1 280.5 L543.5 277.5 L545.1 275.5 M550.1 269.1 L550.6 268.5 L552.9 265.5 L555.3 262.5 L555.5 262.2 M560.6 255.8 L562.4 253.5 L564.8 250.5 L566.1 248.9 M571.2 242.5 L572 241.5 L574.4 238.5 L576.7 235.6 M581.8 229.2 L583.9 226.5 L586.3 223.5 L587.3 222.3 M592.4 215.9 L593.5 214.5 L595.9 211.5 L597.9 209 M603.1 202.6 L603.2 202.5 L605.6 199.5 L608 196.5 L608.6 195.7 M613.8 189.3 L615.3 187.5 L617.7 184.5 L619.4 182.4 M624.6 176 L625 175.5 L627.4 172.5 L629.8 169.5 L630.2 169.1 M635.4 162.7 L637.2 160.5 L639.6 157.5 L641 155.8 M646.2 149.4 L646.9 148.5 L649.4 145.5 L651.8 142.5 M657.1 136.1 L659.2 133.5 L661.7 130.5 L662.7 129.2 M668 122.8 L669 121.5 L671.5 118.5 L673.6 115.9 M678.9 109.5 L678.9 109.5 L681.4 106.5 L683.9 103.5 L684.6 102.6 M689.9 96.2 L691.3 94.5 L693.8 91.5 L695.6 89.3 M408 503.5 L408.7 502.5 L409.4 501.6 M413.9 495.2 L415.1 493.5 L417.2 490.5 L418.8 488.3 M423.4 481.9 L423.7 481.5 L425.8 478.5 L427.9 475.5 L428.3 475 M432.9 468.6 L434.4 466.5 L436.5 463.5 L437.8 461.7 M442.4 455.3 L443 454.5 L445.2 451.5 L447.3 448.5 L447.4 448.4 M452 442 L453.9 439.5 L456 436.5 L457.1 435.1 M461.7 428.7 L462.6 427.5 L464.8 424.5 L466.7 421.8 M471.4 415.4 L473.6 412.5 L475.8 409.5 L476.5 408.5 M481.2 402.1 L482.4 400.5 L484.6 397.5 L486.3 395.2 M491 388.8 L491.2 388.5 L493.5 385.5 L495.7 382.5 L496.1 381.9 M500.9 375.5 L502.4 373.5 L504.6 370.5 L506 368.6 M510.8 362.2 L511.3 361.5 L513.6 358.5 L515.8 355.5 L516 355.3 M520.8 348.9 L522.6 346.5 L524.8 343.5 L525.9 342 M530.8 335.6 L531.6 334.5 L533.9 331.5 L536 328.7 M540.8 322.3 L543 319.5 L545.2 316.5 L546.1 315.4 M550.9 309 L552.1 307.5 L554.4 304.5 L556.2 302.1 M561.1 295.7 L561.2 295.5 L563.5 292.5 L565.8 289.5 L566.4 288.8 M571.3 282.4 L572.7 280.5 L575 277.5 L576.6 275.5 M581.5 269.1 L582 268.5 L584.3 265.5 L586.6 262.5 L586.8 262.2 M591.8 255.8 L593.6 253.5 L595.9 250.5 L597.1 248.9 M602.1 242.5 L602.9 241.5 L605.2 238.5 L607.5 235.6 M612.5 229.2 L614.6 226.5 L616.9 223.5 L617.9 222.3 M622.9 215.9 L624 214.5 L626.4 211.5 L628.3 209 M633.3 202.6 L633.4 202.5 L635.8 199.5 L638.2 196.5 L638.8 195.7 M643.8 189.3 L645.3 187.5 L647.6 184.5 L649.3 182.4 M654.4 176 L654.8 175.5 L657.2 172.5 L659.5 169.5 L659.9 169.1 M665 162.7 L666.7 160.5 L669.1 157.5 L670.5 155.8 M675.6 149.4 L676.3 148.5 L678.7 145.5 L681.1 142.5 M686.2 136.1 L688.3 133.5 L690.7 130.5 L691.8 129.2 M434.6 503.5 L435.3 502.5 L435.9 501.6 M440.3 495.2 L441.5 493.5 L443.6 490.5 L445.1 488.3 M449.5 481.9 L449.8 481.5 L451.9 478.5 L454 475.5 L454.4 475 M458.8 468.6 L460.3 466.5 L462.4 463.5 L463.7 461.7 M468.2 455.3 L468.8 454.5 L470.9 451.5 L473 448.5 L473.1 448.4 M477.6 442 L479.4 439.5 L481.5 436.5 L482.5 435.1 M487.1 428.7 L487.9 427.5 L490.1 424.5 L492 421.8 M496.6 415.4 L498.7 412.5 L500.8 409.5 L501.5 408.5 M506.1 402.1 L507.3 400.5 L509.5 397.5 L511.1 395.2 M515.8 388.8 L516 388.5 L518.2 385.5 L520.3 382.5 L520.8 381.9 M525.4 375.5 L526.9 373.5 L529.1 370.5 L530.5 368.6 M535.1 362.2 L535.7 361.5 L537.9 358.5 L540.1 355.5 L540.2 355.3 M544.9 348.9 L546.7 346.5 L548.9 343.5 L550 342 M554.7 335.6 L555.6 334.5 L557.8 331.5 L559.9 328.7 M564.6 322.3 L566.7 319.5 L568.9 316.5 L569.7 315.4 M574.5 309 L575.7 307.5 L577.9 304.5 L579.7 302.1 M584.5 295.7 L584.6 295.5 L586.9 292.5 L589.2 289.5 L589.7 288.8 M594.5 282.4 L595.9 280.5 L598.2 277.5 L599.7 275.5 M604.6 269.1 L605 268.5 L607.3 265.5 L609.6 262.5 L609.8 262.2 M614.7 255.8 L616.4 253.5 L618.7 250.5 L619.9 248.9 M624.8 242.5 L625.6 241.5 L627.9 238.5 L630.1 235.6 M635 229.2 L637.1 226.5 L639.4 223.5 L640.3 222.3 M645.3 215.9 L646.3 214.5 L648.7 211.5 L650.6 209 M655.5 202.6 L655.6 202.5 L658 199.5 L660.3 196.5 L660.9 195.7 M665.9 189.3 L667.3 187.5 L669.6 184.5 L671.2 182.4 M676.2 176 L676.6 175.5 L679 172.5 L681.3 169.5 L681.6 169.1 M686.7 162.7 L688.4 160.5 L690.8 157.5 L692.1 155.8 M473.4 503.5 L474 502.5 L474.6 501.6 M478.9 495.2 L480 493.5 L482 490.5 L483.5 488.3 M487.8 481.9 L488.1 481.5 L490.1 478.5 L492.1 475.5 L492.5 475 M496.8 468.6 L498.2 466.5 L500.3 463.5 L501.5 461.7 M505.8 455.3 L506.4 454.5 L508.4 451.5 L510.5 448.5 L510.5 448.4 M514.9 442 L516.7 439.5 L518.7 436.5 L519.7 435.1 M524.1 428.7 L524.9 427.5 L527 424.5 L528.9 421.8 M533.3 415.4 L535.3 412.5 L537.4 409.5 L538.1 408.5 M542.6 402.1 L543.7 400.5 L545.8 397.5 L547.4 395.2 M551.9 388.8 L552.1 388.5 L554.2 385.5 L556.3 382.5 L556.7 381.9 M561.3 375.5 L562.7 373.5 L564.8 370.5 L566.2 368.6 M570.7 362.2 L571.2 361.5 L573.3 358.5 L575.5 355.5 L575.6 355.3 M580.2 348.9 L581.9 346.5 L584.1 343.5 L585.1 342 M589.7 335.6 L590.5 334.5 L592.7 331.5 L594.7 328.7 M599.3 322.3 L601.4 319.5 L603.5 316.5 L604.3 315.4 M609 309 L610.1 307.5 L612.2 304.5 L614 302.1 M618.7 295.7 L618.8 295.5 L621 292.5 L623.2 289.5 L623.7 288.8 M628.4 282.4 L629.8 280.5 L632 277.5 L633.5 275.5 M638.2 269.1 L638.6 268.5 L640.9 265.5 L643.1 262.5 L643.3 262.2 M648 255.8 L649.8 253.5 L652 250.5 L653.2 248.9 M657.9 242.5 L658.7 241.5 L660.9 238.5 L663.1 235.6 M667.9 229.2 L669.9 226.5 L672.2 223.5 L673.1 222.3 M677.9 215.9 L678.9 214.5 L681.2 211.5 L683.1 209 M687.9 202.6 L688 202.5 L690.3 199.5 L692.5 196.5 L693.1 195.7 M501.9 503.5 L502.6 502.5 L503.1 501.6 M507.3 495.2 L508.4 493.5 L510.4 490.5 L511.8 488.3 M516 481.9 L516.2 481.5 L518.2 478.5 L520.2 475.5 L520.5 475 M524.7 468.6 L526.1 466.5 L528.1 463.5 L529.3 461.7 M533.5 455.3 L534.1 454.5 L536.1 451.5 L538.1 448.5 L538.1 448.4 M542.4 442 L544.1 439.5 L546.1 436.5 L547 435.1 M551.3 428.7 L552.1 427.5 L554.1 424.5 L556 421.8 M560.3 415.4 L562.3 412.5 L564.3 409.5 L565 408.5 M569.3 402.1 L570.4 400.5 L572.5 397.5 L574.1 395.2 M578.4 388.8 L578.7 388.5 L580.7 385.5 L582.8 382.5 L583.2 381.9 M587.6 375.5 L589 373.5 L591.1 370.5 L592.4 368.6 M596.8 362.2 L597.3 361.5 L599.4 358.5 L601.5 355.5 L601.6 355.3 M606.1 348.9 L607.8 346.5 L609.9 343.5 L610.9 342 M615.4 335.6 L616.2 334.5 L618.3 331.5 L620.3 328.7 M624.8 322.3 L626.8 319.5 L628.9 316.5 L629.7 315.4 M634.3 309 L635.3 307.5 L637.5 304.5 L639.2 302.1 M643.7 295.7 L643.9 295.5 L646 292.5 L648.2 289.5 L648.7 288.8 M653.3 282.4 L654.7 280.5 L656.8 277.5 L658.3 275.5 M662.9 269.1 L663.3 268.5 L665.5 265.5 L667.7 262.5 L667.9 262.2 M672.5 255.8 L674.2 253.5 L676.4 250.5 L677.6 248.9 M682.2 242.5 L683 241.5 L685.2 238.5 L687.3 235.6 M692 229.2 L694 226.5 L696.2 223.5 L696.5 223.1 M524.7 503.5 L525.3 502.5 L525.9 501.6 M529.9 495.2 L531 493.5 L532.9 490.5 L534.3 488.3 M538.4 481.9 L538.7 481.5 L540.6 478.5 L542.5 475.5 L542.8 475 M547 468.6 L548.3 466.5 L550.3 463.5 L551.4 461.7 M555.6 455.3 L556.1 454.5 L558 451.5 L560 448.5 L560.1 448.4 M564.2 442 L565.9 439.5 L567.9 436.5 L568.8 435.1 M573 428.7 L573.8 427.5 L575.8 424.5 L577.5 421.8 M581.8 415.4 L583.7 412.5 L585.7 409.5 L586.4 408.5 M590.7 402.1 L591.7 400.5 L593.7 397.5 L595.3 395.2 M599.6 388.8 L599.8 388.5 L601.8 385.5 L603.8 382.5 L604.2 381.9 M608.6 375.5 L609.9 373.5 L612 370.5 L613.2 368.6 M617.6 362.2 L618.1 361.5 L620.1 358.5 L622.2 355.5 L622.3 355.3 M626.7 348.9 L628.4 346.5 L630.4 343.5 L631.5 342 M635.9 335.6 L636.6 334.5 L638.7 331.5 L640.6 328.7 M645.1 322.3 L647 319.5 L649.1 316.5 L649.9 315.4 M654.4 309 L655.4 307.5 L657.5 304.5 L659.2 302.1 M663.7 295.7 L663.8 295.5 L665.9 292.5 L668.1 289.5 L668.6 288.8 M673.1 282.4 L674.4 280.5 L676.6 277.5 L678 275.5 M682.5 269.1 L682.9 268.5 L685.1 265.5 L687.2 262.5 L687.4 262.2 M692 255.8 L693.7 253.5 L695.8 250.5 L696.5 249.5 M543.6 503.5 L544.3 502.5 L544.8 501.6 M548.8 495.2 L549.9 493.5 L551.7 490.5 L553.1 488.3 M557.1 481.9 L557.4 481.5 L559.3 478.5 L561.1 475.5 L561.5 475 M565.5 468.6 L566.8 466.5 L568.7 463.5 L569.9 461.7 M574 455.3 L574.5 454.5 L576.4 451.5 L578.3 448.5 L578.4 448.4 M582.5 442 L584.1 439.5 L586 436.5 L586.9 435.1 M591.1 428.7 L591.8 427.5 L593.8 424.5 L595.5 421.8 M599.7 415.4 L601.6 412.5 L603.6 409.5 L604.2 408.5 M608.4 402.1 L609.5 400.5 L611.5 397.5 L613 395.2 M617.2 388.8 L617.4 388.5 L619.4 385.5 L621.4 382.5 L621.8 381.9 M626 375.5 L627.4 373.5 L629.4 370.5 L630.6 368.6 M634.9 362.2 L635.4 361.5 L637.4 358.5 L639.4 355.5 L639.6 355.3 M643.9 348.9 L645.5 346.5 L647.5 343.5 L648.6 342 M652.9 335.6 L653.7 334.5 L655.7 331.5 L657.6 328.7 M662 322.3 L663.9 319.5 L666 316.5 L666.7 315.4 M671.1 309 L672.2 307.5 L674.2 304.5 L675.9 302.1 M680.3 295.7 L680.4 295.5 L682.5 292.5 L684.6 289.5 L685.1 288.8 M689.5 282.4 L690.9 280.5 L693 277.5 L694.4 275.5 M567.3 503.5 L567.9 502.5 L568.5 501.6 M572.4 495.2 L573.4 493.5 L575.2 490.5 L576.6 488.3 M580.5 481.9 L580.7 481.5 L582.6 478.5 L584.4 475.5 L584.7 475 M588.7 468.6 L590 466.5 L591.8 463.5 L592.9 461.7 M596.9 455.3 L597.4 454.5 L599.3 451.5 L601.2 448.5 L601.2 448.4 M605.2 442 L606.8 439.5 L608.7 436.5 L609.6 435.1 M613.6 428.7 L614.4 427.5 L616.3 424.5 L618 421.8 M622.1 415.4 L623.9 412.5 L625.8 409.5 L626.5 408.5 M630.6 402.1 L631.6 400.5 L633.6 397.5 L635 395.2 M639.2 388.8 L639.4 388.5 L641.3 385.5 L643.3 382.5 L643.6 381.9 M647.8 375.5 L649.1 373.5 L651.1 370.5 L652.3 368.6 M656.5 362.2 L657 361.5 L659 358.5 L660.9 355.5 L661.1 355.3 M665.3 348.9 L666.9 346.5 L668.9 343.5 L669.9 342 M674.1 335.6 L674.9 334.5 L676.9 331.5 L678.8 328.7 M683 322.3 L684.9 319.5 L686.9 316.5 L687.7 315.4 M692 309 L693 307.5 L695 304.5 L696.5 302.3 M598.6 503.5 L599.2 502.5 L599.8 501.6 M603.5 495.2 L604.5 493.5 L606.3 490.5 L607.5 488.3 M611.3 481.9 L611.6 481.5 L613.3 478.5 L615.1 475.5 L615.4 475 M619.2 468.6 L620.5 466.5 L622.3 463.5 L623.4 461.7 M627.2 455.3 L627.7 454.5 L629.5 451.5 L631.3 448.5 L631.4 448.4 M635.3 442 L636.8 439.5 L638.6 436.5 L639.5 435.1 M643.4 428.7 L644.1 427.5 L646 424.5 L647.6 421.8 M651.6 415.4 L653.4 412.5 L655.2 409.5 L655.9 408.5 M659.8 402.1 L660.8 400.5 L662.7 397.5 L664.2 395.2 M668.2 388.8 L668.4 388.5 L670.3 385.5 L672.1 382.5 L672.5 381.9 M676.6 375.5 L677.8 373.5 L679.8 370.5 L681 368.6 M685 362.2 L685.5 361.5 L687.4 358.5 L689.3 355.5 L689.5 355.3 M693.6 348.9 L695.1 346.5 L696.5 344.3 M623.5 503.5 L624.1 502.5 L624.6 501.6 M628.2 495.2 L629.2 493.5 L630.9 490.5 L632.1 488.3 M635.8 481.9 L636 481.5 L637.8 478.5 L639.5 475.5 L639.8 475 M643.5 468.6 L644.7 466.5 L646.5 463.5 L647.5 461.7 M651.3 455.3 L651.7 454.5 L653.5 451.5 L655.3 448.5 L655.3 448.4 M659.1 442 L660.6 439.5 L662.4 436.5 L663.2 435.1 M667 428.7 L667.7 427.5 L669.5 424.5 L671.1 421.8 M675 415.4 L676.7 412.5 L678.6 409.5 L679.2 408.5 M683 402.1 L684 400.5 L685.9 397.5 L687.2 395.2 M691.2 388.8 L691.4 388.5 L693.2 385.5 L695 382.5 L695.4 381.9 M644.1 503.5 L644.7 502.5 L645.2 501.6 M648.7 495.2 L649.7 493.5 L651.4 490.5 L652.6 488.3 M656.2 481.9 L656.4 481.5 L658.1 478.5 L659.8 475.5 L660 475 M663.7 468.6 L664.9 466.5 L666.6 463.5 L667.6 461.7 M671.2 455.3 L671.7 454.5 L673.4 451.5 L675.1 448.5 L675.2 448.4 M678.9 442 L680.3 439.5 L682.1 436.5 L682.9 435.1 M686.6 428.7 L687.3 427.5 L689.1 424.5 L690.7 421.8 M694.4 415.4 L696.1 412.5 L696.5 411.9 M677.3 503.5 L677.8 502.5 L678.3 501.6 M681.7 495.2 L682.6 493.5 L684.2 490.5 L685.4 488.3 M688.8 481.9 L689 481.5 L690.7 478.5 L692.3 475.5 L692.5 475 M696 468.6 L696.5 467.7"/>
<path stroke="#4a0084" stroke-width="1" d="M406.2 169.5 H418.8 M415.2 184.5 H433.8 M424.3 199.5 H449.5 M434.6 212.5 H462.5 M445.3 225.5 H476.3 M454.2 236.5 H487.3 M463.2 247.5 H499.7 M471.4 257.5 H509.7 M479.6 267.5 H517.6 M487 276.5 H525.9 M494.5 285.5 H532.3 M502 294.5 H538.7 M508.7 302.5 H544.5 M514.6 309.5 H549.5 M521.3 317.5 H554.7 M527.1 324.5 H559.2 M531.7 331.5 H563.5 M534.9 337.5 H566.6 M538.7 344.5 H569.9 M542 350.5 H572.6 M545.2 356.5 H575.4 M547.9 361.5 H577.6 M551.2 367.5 H580.3 M554.1 372.5 H582 M557.7 378.5 H584 M560.7 383.5 H585.5 M563.7 388.5 H586.9 M566.7 393.5 H588.1 M569.1 397.5 H589.1 M572.1 402.5 H590.3 M574.7 406.5 H591.1 M577.9 411.5 H592.2 M580.4 415.5 H593 M583 419.5 H593.8 M585.6 423.5 H594.7 M588.1 427.5 H595.6 M589.2 431.5 H596.6 M589 435.5 H597.4 M588.7 439.5 H598.3 M588.6 442.5 H598.9 M588.4 446.5 H599.7 M588.2 449.5 H600.2 M588 453.5 H600.8 M587.8 456.5 H601.3 M587.6 460.5 H601.8 M587.4 463.5 H602.3 M586.4 466.5 H602.6 M584.9 469.5 H602.9 M583.4 472.5 H603.1 M581.9 475.5 H603.4 M580.4 478.5 H603.7 M580.5 481.5 H604.1 M585.2 484.5 H604.4 M589.9 487.5 H604.7 M594.6 490.5 H605 M599.3 493.5 H605.2"/>
<path stroke="#ff0000" stroke-width="1.6" d="M406.1 74.5 L393.5 148.5 L425 200.7 L485.2 274.4 L529.3 327.1 L551.4 367.9 L571.4 401.4 L589.3 429.3 L587.4 464.4 L579.3 480.7 L603.8 496.4"/>
<path stroke="#0000ff" stroke-width="1.6" d="M384.7 148 L420 242.1 L370.7 274.4 L325 327.2 L355.5 368 L411.6 401.3 L438.4 429.3 L496.2 464.4 L566.6 480.4 L603.8 496.4"/>
<path stroke="#4a0084" stroke-width="1.8" d="M333.6 74.5 L397.9 149.3 L417.1 169.3 L432.1 184.3 L450 201.4 L461.4 212.9 L474.3 225 L485.7 236.4 L498.6 247.9 L508.6 257.9 L515.7 267.1 L524.3 276.4 L537.1 294.3 L547.9 309.3 L557.1 323.6 L562.9 332.9 L568.6 345 L572.9 354.3 L579.3 368.6 L584.3 384.3 L588.6 401.4 L592.1 418.6 L595.7 434.3 L598.6 448.6 L600.7 462.9 L602.1 477.1 L603.6 491.4 L603.9 496.3"/>
<path stroke="#4a0084" stroke-width="2.6" d="M393.5 144.2 L397.9 149.3 L417.1 169.3 L432.1 184.3 L450 201.4"/>
</g>
<g shape-rendering="crispEdges">
<rect x="383" y="75" width="3" height="2" fill="#0000ff"/>
<rect x="384" y="75" width="1" height="73" fill="#0000ff"/>
<rect x="383" y="147" width="3" height="2" fill="#0000ff"/>
<rect x="602" y="494" width="4" height="4" fill="#4a0084"/>
</g>
<g>
<text x="83.9" y="51.7" textLength="33" lengthAdjust="spacingAndGlyphs" font-size="16" fill="#000000" stroke="#fff" stroke-width="0.25">AIRS</text>
<text x="126" y="51.7" textLength="48" lengthAdjust="spacingAndGlyphs" font-size="16" fill="#000000" stroke="#fff" stroke-width="0.25">SkewT</text>
<text x="181.2" y="51.7" textLength="64" lengthAdjust="spacingAndGlyphs" font-size="16" fill="#000000" stroke="#fff" stroke-width="0.25">Diagram</text>
<text x="253.9" y="51.7" font-size="16" fill="#000000" stroke="#fff" stroke-width="0.25"><tspan textLength="41.1" lengthAdjust="spacingAndGlyphs">2010</tspan><tspan textLength="14" lengthAdjust="spacingAndGlyphs">-</tspan><tspan textLength="20.5" lengthAdjust="spacingAndGlyphs">07</tspan><tspan textLength="14" lengthAdjust="spacingAndGlyphs">-</tspan><tspan textLength="123.3" lengthAdjust="spacingAndGlyphs">31/13:40:49.27</tspan></text>
<text x="477.2" y="51.7" textLength="68" lengthAdjust="spacingAndGlyphs" font-size="16" fill="#000000" stroke="#fff" stroke-width="0.25">(Lat/Lon</text>
<text x="557.2" y="51.7" font-size="16" fill="#000000" stroke="#fff" stroke-width="0.25"><tspan textLength="50.9" lengthAdjust="spacingAndGlyphs">11.29/</tspan><tspan textLength="13.9" lengthAdjust="spacingAndGlyphs">-</tspan><tspan textLength="55.9" lengthAdjust="spacingAndGlyphs">173.47</tspan></text>
<text x="689" y="51.7" textLength="33.8" lengthAdjust="spacingAndGlyphs" font-size="16" fill="#000000" stroke="#fff" stroke-width="0.25">deg)</text>
<text x="114.2" y="65.5" font-size="10" fill="#ff0000"><tspan textLength="8.9" lengthAdjust="spacingAndGlyphs">-</tspan><tspan textLength="19.5" lengthAdjust="spacingAndGlyphs">120</tspan></text>
<text x="182" y="65.5" font-size="10" fill="#ff0000"><tspan textLength="8.6" lengthAdjust="spacingAndGlyphs">-</tspan><tspan textLength="19" lengthAdjust="spacingAndGlyphs">110</tspan></text>
<text x="250" y="65.5" font-size="10" fill="#ff0000"><tspan textLength="8.5" lengthAdjust="spacingAndGlyphs">-</tspan><tspan textLength="18.8" lengthAdjust="spacingAndGlyphs">100</tspan></text>
<text x="324.2" y="65.5" font-size="10" fill="#ff0000"><tspan textLength="8.2" lengthAdjust="spacingAndGlyphs">-</tspan><tspan textLength="12" lengthAdjust="spacingAndGlyphs">90</tspan></text>
<text x="392.2" y="65.5" font-size="10" fill="#ff0000"><tspan textLength="8.5" lengthAdjust="spacingAndGlyphs">-</tspan><tspan textLength="12.5" lengthAdjust="spacingAndGlyphs">80</tspan></text>
<text x="460" y="65.5" font-size="10" fill="#ff0000"><tspan textLength="8.4" lengthAdjust="spacingAndGlyphs">-</tspan><tspan textLength="12.3" lengthAdjust="spacingAndGlyphs">70</tspan></text>
<text x="526.2" y="65.5" font-size="10" fill="#ff0000"><tspan textLength="8.7" lengthAdjust="spacingAndGlyphs">-</tspan><tspan textLength="12.7" lengthAdjust="spacingAndGlyphs">60</tspan></text>
<text x="594.5" y="65.5" font-size="10" fill="#ff0000"><tspan textLength="8.7" lengthAdjust="spacingAndGlyphs">-</tspan><tspan textLength="12.7" lengthAdjust="spacingAndGlyphs">50</tspan></text>
<text x="662.4" y="65.5" font-size="10" fill="#ff0000"><tspan textLength="8.8" lengthAdjust="spacingAndGlyphs">-</tspan><tspan textLength="12.9" lengthAdjust="spacingAndGlyphs">40</tspan></text>
<text x="88.3" y="516.5" font-size="10" fill="#ff0000"><tspan textLength="8.6" lengthAdjust="spacingAndGlyphs">-</tspan><tspan textLength="12.7" lengthAdjust="spacingAndGlyphs">50</tspan></text>
<text x="155.1" y="516.5" font-size="10" fill="#ff0000"><tspan textLength="8.7" lengthAdjust="spacingAndGlyphs">-</tspan><tspan textLength="12.8" lengthAdjust="spacingAndGlyphs">40</tspan></text>
<text x="223.4" y="516.5" font-size="10" fill="#ff0000"><tspan textLength="8.5" lengthAdjust="spacingAndGlyphs">-</tspan><tspan textLength="12.4" lengthAdjust="spacingAndGlyphs">30</tspan></text>
<text x="291.4" y="516.5" font-size="10" fill="#ff0000"><tspan textLength="8.5" lengthAdjust="spacingAndGlyphs">-</tspan><tspan textLength="12.5" lengthAdjust="spacingAndGlyphs">20</tspan></text>
<text x="359.1" y="516.5" font-size="10" fill="#ff0000"><tspan textLength="8.6" lengthAdjust="spacingAndGlyphs">-</tspan><tspan textLength="12.7" lengthAdjust="spacingAndGlyphs">10</tspan></text>
<text x="433.7" y="516.5" textLength="6.3" lengthAdjust="spacingAndGlyphs" font-size="10" fill="#ff0000">0</text>
<text x="499" y="516.5" textLength="12.6" lengthAdjust="spacingAndGlyphs" font-size="10" fill="#ff0000">10</text>
<text x="566" y="516.5" textLength="12.6" lengthAdjust="spacingAndGlyphs" font-size="10" fill="#ff0000">20</text>
<text x="634.2" y="516.5" textLength="12.2" lengthAdjust="spacingAndGlyphs" font-size="10" fill="#ff0000">30</text>
<text x="677.6" y="516.5" textLength="20.3" lengthAdjust="spacingAndGlyphs" font-size="10" fill="#ff0000">T(C)</text>
<text x="48.4" y="75" textLength="18.8" lengthAdjust="spacingAndGlyphs" font-size="11" fill="#000000">100</text>
<text x="48.4" y="202" textLength="18.8" lengthAdjust="spacingAndGlyphs" font-size="11" fill="#000000">200</text>
<text x="48.4" y="276" textLength="18.8" lengthAdjust="spacingAndGlyphs" font-size="11" fill="#000000">300</text>
<text x="48.4" y="328" textLength="18.8" lengthAdjust="spacingAndGlyphs" font-size="11" fill="#000000">400</text>
<text x="48.4" y="369" textLength="18.8" lengthAdjust="spacingAndGlyphs" font-size="11" fill="#000000">500</text>
<text x="48.4" y="402" textLength="18.8" lengthAdjust="spacingAndGlyphs" font-size="11" fill="#000000">600</text>
<text x="48.4" y="430" textLength="18.8" lengthAdjust="spacingAndGlyphs" font-size="11" fill="#000000">700</text>
<text x="48.4" y="454" textLength="18.8" lengthAdjust="spacingAndGlyphs" font-size="11" fill="#000000">800</text>
<text x="48.4" y="476" textLength="18.8" lengthAdjust="spacingAndGlyphs" font-size="11" fill="#000000">900</text>
<text x="42.8" y="495" textLength="24.4" lengthAdjust="spacingAndGlyphs" font-size="11" fill="#000000">1000</text>
<text x="81.8" y="332.3" transform="rotate(-90 81.8 332.3)" font-size="12.8" fill="#000000"><tspan x="81.8" textLength="67.5" lengthAdjust="spacingAndGlyphs">PRESSURE</tspan><tspan> </tspan><tspan x="158" textLength="28.5" lengthAdjust="spacingAndGlyphs">(MB)</tspan></text>
<text x="117" y="116.8" textLength="163" lengthAdjust="spacingAndGlyphs" font-size="18.5" fill="#ff0000" stroke="#fff" stroke-width="0.25">Ambient Air Temp</text>
<text x="117" y="138.2" textLength="149.5" lengthAdjust="spacingAndGlyphs" font-size="18.5" fill="#0000ff" stroke="#fff" stroke-width="0.25">Dew Point Temp</text>
<text x="117" y="160" textLength="147" lengthAdjust="spacingAndGlyphs" font-size="18.5" fill="#4a0084" stroke="#fff" stroke-width="0.25">Air Parcel Temp</text>
<text x="701.1" y="84.9" textLength="44.6" lengthAdjust="spacingAndGlyphs" font-size="12.5" fill="#000000">TP:100</text>
<text x="700.4" y="100.6" textLength="50.4" lengthAdjust="spacingAndGlyphs" font-size="12.5" fill="#000000">MW:N/A</text>
<text x="700.4" y="116.3" textLength="52.7" lengthAdjust="spacingAndGlyphs" font-size="12.5" fill="#000000">FRZ:558</text>
<text x="699.7" y="132" textLength="56.4" lengthAdjust="spacingAndGlyphs" font-size="12.5" fill="#000000">WB0:610</text>
<text x="699.7" y="147.7" textLength="58" lengthAdjust="spacingAndGlyphs" font-size="12.5" fill="#000000">PW:34.91</text>
<text x="700.4" y="163.4" textLength="51.1" lengthAdjust="spacingAndGlyphs" font-size="12.5" fill="#000000">RH:39.7</text>
<text x="699.3" y="179" textLength="64.9" lengthAdjust="spacingAndGlyphs" font-size="12.5" fill="#000000">MAXT:30.8</text>
<text x="700.4" y="194.7" textLength="52.7" lengthAdjust="spacingAndGlyphs" font-size="12.5" fill="#000000">TH:5463</text>
<text x="700.4" y="210.4" textLength="47.6" lengthAdjust="spacingAndGlyphs" font-size="12.5" fill="#000000">L57:6.4</text>
<text x="699.3" y="226.1" textLength="58.7" lengthAdjust="spacingAndGlyphs" font-size="12.5" fill="#000000">LCL:1011</text>
<text x="701.6" y="241.8" font-size="12.5" fill="#000000"><tspan textLength="15.3" lengthAdjust="spacingAndGlyphs">LI:</tspan><tspan textLength="10.4" lengthAdjust="spacingAndGlyphs">-</tspan><tspan textLength="19.1" lengthAdjust="spacingAndGlyphs">3.9</tspan></text>
<text x="700.9" y="257.5" textLength="44.8" lengthAdjust="spacingAndGlyphs" font-size="12.5" fill="#000000">SI:10.0</text>
<text x="700.4" y="273.2" textLength="46.4" lengthAdjust="spacingAndGlyphs" font-size="12.5" fill="#000000">TT:31.4</text>
<text x="701.6" y="288.9" textLength="40.6" lengthAdjust="spacingAndGlyphs" font-size="12.5" fill="#000000">KI:276</text>
<text x="700.4" y="304.6" textLength="48.8" lengthAdjust="spacingAndGlyphs" font-size="12.5" fill="#000000">SW:N/A</text>
<text x="702.8" y="320.2" textLength="34.8" lengthAdjust="spacingAndGlyphs" font-size="12.5" fill="#000000">EI:0.2</text>
<text x="699.3" y="335.9" font-size="12.5" fill="#000000"><tspan textLength="9.4" lengthAdjust="spacingAndGlyphs">-</tspan><tspan textLength="49.6" lengthAdjust="spacingAndGlyphs">PARCEL</tspan><tspan textLength="9.4" lengthAdjust="spacingAndGlyphs">-</tspan></text>
<text x="699.7" y="351.6" textLength="68.7" lengthAdjust="spacingAndGlyphs" font-size="12.5" fill="#000000">CAPE:1723</text>
<text x="701.6" y="367.3" textLength="42.2" lengthAdjust="spacingAndGlyphs" font-size="12.5" fill="#000000">CINH:0</text>
<text x="699.3" y="383" textLength="59.1" lengthAdjust="spacingAndGlyphs" font-size="12.5" fill="#000000">LCL:1011</text>
<text x="700.9" y="398.7" textLength="49.9" lengthAdjust="spacingAndGlyphs" font-size="12.5" fill="#000000">CAP:0.0</text>
<text x="699.3" y="414.4" textLength="60.3" lengthAdjust="spacingAndGlyphs" font-size="12.5" fill="#000000">LFC:1008</text>
<text x="702.1" y="430.1" textLength="42.9" lengthAdjust="spacingAndGlyphs" font-size="12.5" fill="#000000">EL:148</text>
<text x="700.4" y="445.8" textLength="52.2" lengthAdjust="spacingAndGlyphs" font-size="12.5" fill="#000000">MPL:101</text>
<text x="701.1" y="461.5" font-size="12.5" fill="#000000"><tspan textLength="9.2" lengthAdjust="spacingAndGlyphs">-</tspan><tspan textLength="32.1" lengthAdjust="spacingAndGlyphs">WIND</tspan><tspan textLength="9.2" lengthAdjust="spacingAndGlyphs">-</tspan></text>
<text x="704.4" y="477.1" textLength="22.7" lengthAdjust="spacingAndGlyphs" font-size="12.5" fill="#000000">NOT</text>
<text x="702.1" y="492.8" textLength="32" lengthAdjust="spacingAndGlyphs" font-size="12.5" fill="#000000">AVAIL</text>
<text x="144.5" y="525.9" text-anchor="middle" transform="rotate(-45 144.5 525.9)" font-size="10.5" fill="#4a0084" stroke="#4a0084" stroke-width="0.25">0.1</text>
<text x="191.5" y="525.9" text-anchor="middle" transform="rotate(-45 191.5 525.9)" font-size="10.5" fill="#4a0084" stroke="#4a0084" stroke-width="0.25">0.2</text>
<text x="256.5" y="525.9" text-anchor="middle" transform="rotate(-45 256.5 525.9)" font-size="10.5" fill="#4a0084" stroke="#4a0084" stroke-width="0.25">0.5</text>
<text x="310.3" y="525.9" text-anchor="middle" transform="rotate(-45 310.3 525.9)" font-size="10.5" fill="#4a0084" stroke="#4a0084" stroke-width="0.25">1</text>
<text x="343.9" y="525.9" text-anchor="middle" transform="rotate(-45 343.9 525.9)" font-size="10.5" fill="#4a0084" stroke="#4a0084" stroke-width="0.25">1.5</text>
<text x="367.9" y="525.9" text-anchor="middle" transform="rotate(-45 367.9 525.9)" font-size="10.5" fill="#4a0084" stroke="#4a0084" stroke-width="0.25">2</text>
<text x="403.3" y="525.9" text-anchor="middle" transform="rotate(-45 403.3 525.9)" font-size="10.5" fill="#4a0084" stroke="#4a0084" stroke-width="0.25">3</text>
<text x="430.7" y="525.9" text-anchor="middle" transform="rotate(-45 430.7 525.9)" font-size="10.5" fill="#4a0084" stroke="#4a0084" stroke-width="0.25">4</text>
<text x="468.3" y="525.9" text-anchor="middle" transform="rotate(-45 468.3 525.9)" font-size="10.5" fill="#4a0084" stroke="#4a0084" stroke-width="0.25">6</text>
<text x="496.5" y="525.9" text-anchor="middle" transform="rotate(-45 496.5 525.9)" font-size="10.5" fill="#4a0084" stroke="#4a0084" stroke-width="0.25">8</text>
<text x="520" y="525.9" text-anchor="middle" transform="rotate(-45 520 525.9)" font-size="10.5" fill="#4a0084" stroke="#4a0084" stroke-width="0.25">10</text>
<text x="538.4" y="525.9" text-anchor="middle" transform="rotate(-45 538.4 525.9)" font-size="10.5" fill="#4a0084" stroke="#4a0084" stroke-width="0.25">12</text>
<text x="561.3" y="525.9" text-anchor="middle" transform="rotate(-45 561.3 525.9)" font-size="10.5" fill="#4a0084" stroke="#4a0084" stroke-width="0.25">15</text>
<text x="592.2" y="525.9" text-anchor="middle" transform="rotate(-45 592.2 525.9)" font-size="10.5" fill="#4a0084" stroke="#4a0084" stroke-width="0.25">20</text>
<text x="616.7" y="525.9" text-anchor="middle" transform="rotate(-45 616.7 525.9)" font-size="10.5" fill="#4a0084" stroke="#4a0084" stroke-width="0.25">25</text>
<text x="637.1" y="525.9" text-anchor="middle" transform="rotate(-45 637.1 525.9)" font-size="10.5" fill="#4a0084" stroke="#4a0084" stroke-width="0.25">30</text>
<text x="670.5" y="525.9" text-anchor="middle" transform="rotate(-45 670.5 525.9)" font-size="10.5" fill="#4a0084" stroke="#4a0084" stroke-width="0.25">40</text>
<text x="663.2" y="527.3" textLength="44.8" lengthAdjust="spacingAndGlyphs" font-size="12.5" fill="#4a0084">w(g/kg)</text>
</g>
</svg>
</body></html>
